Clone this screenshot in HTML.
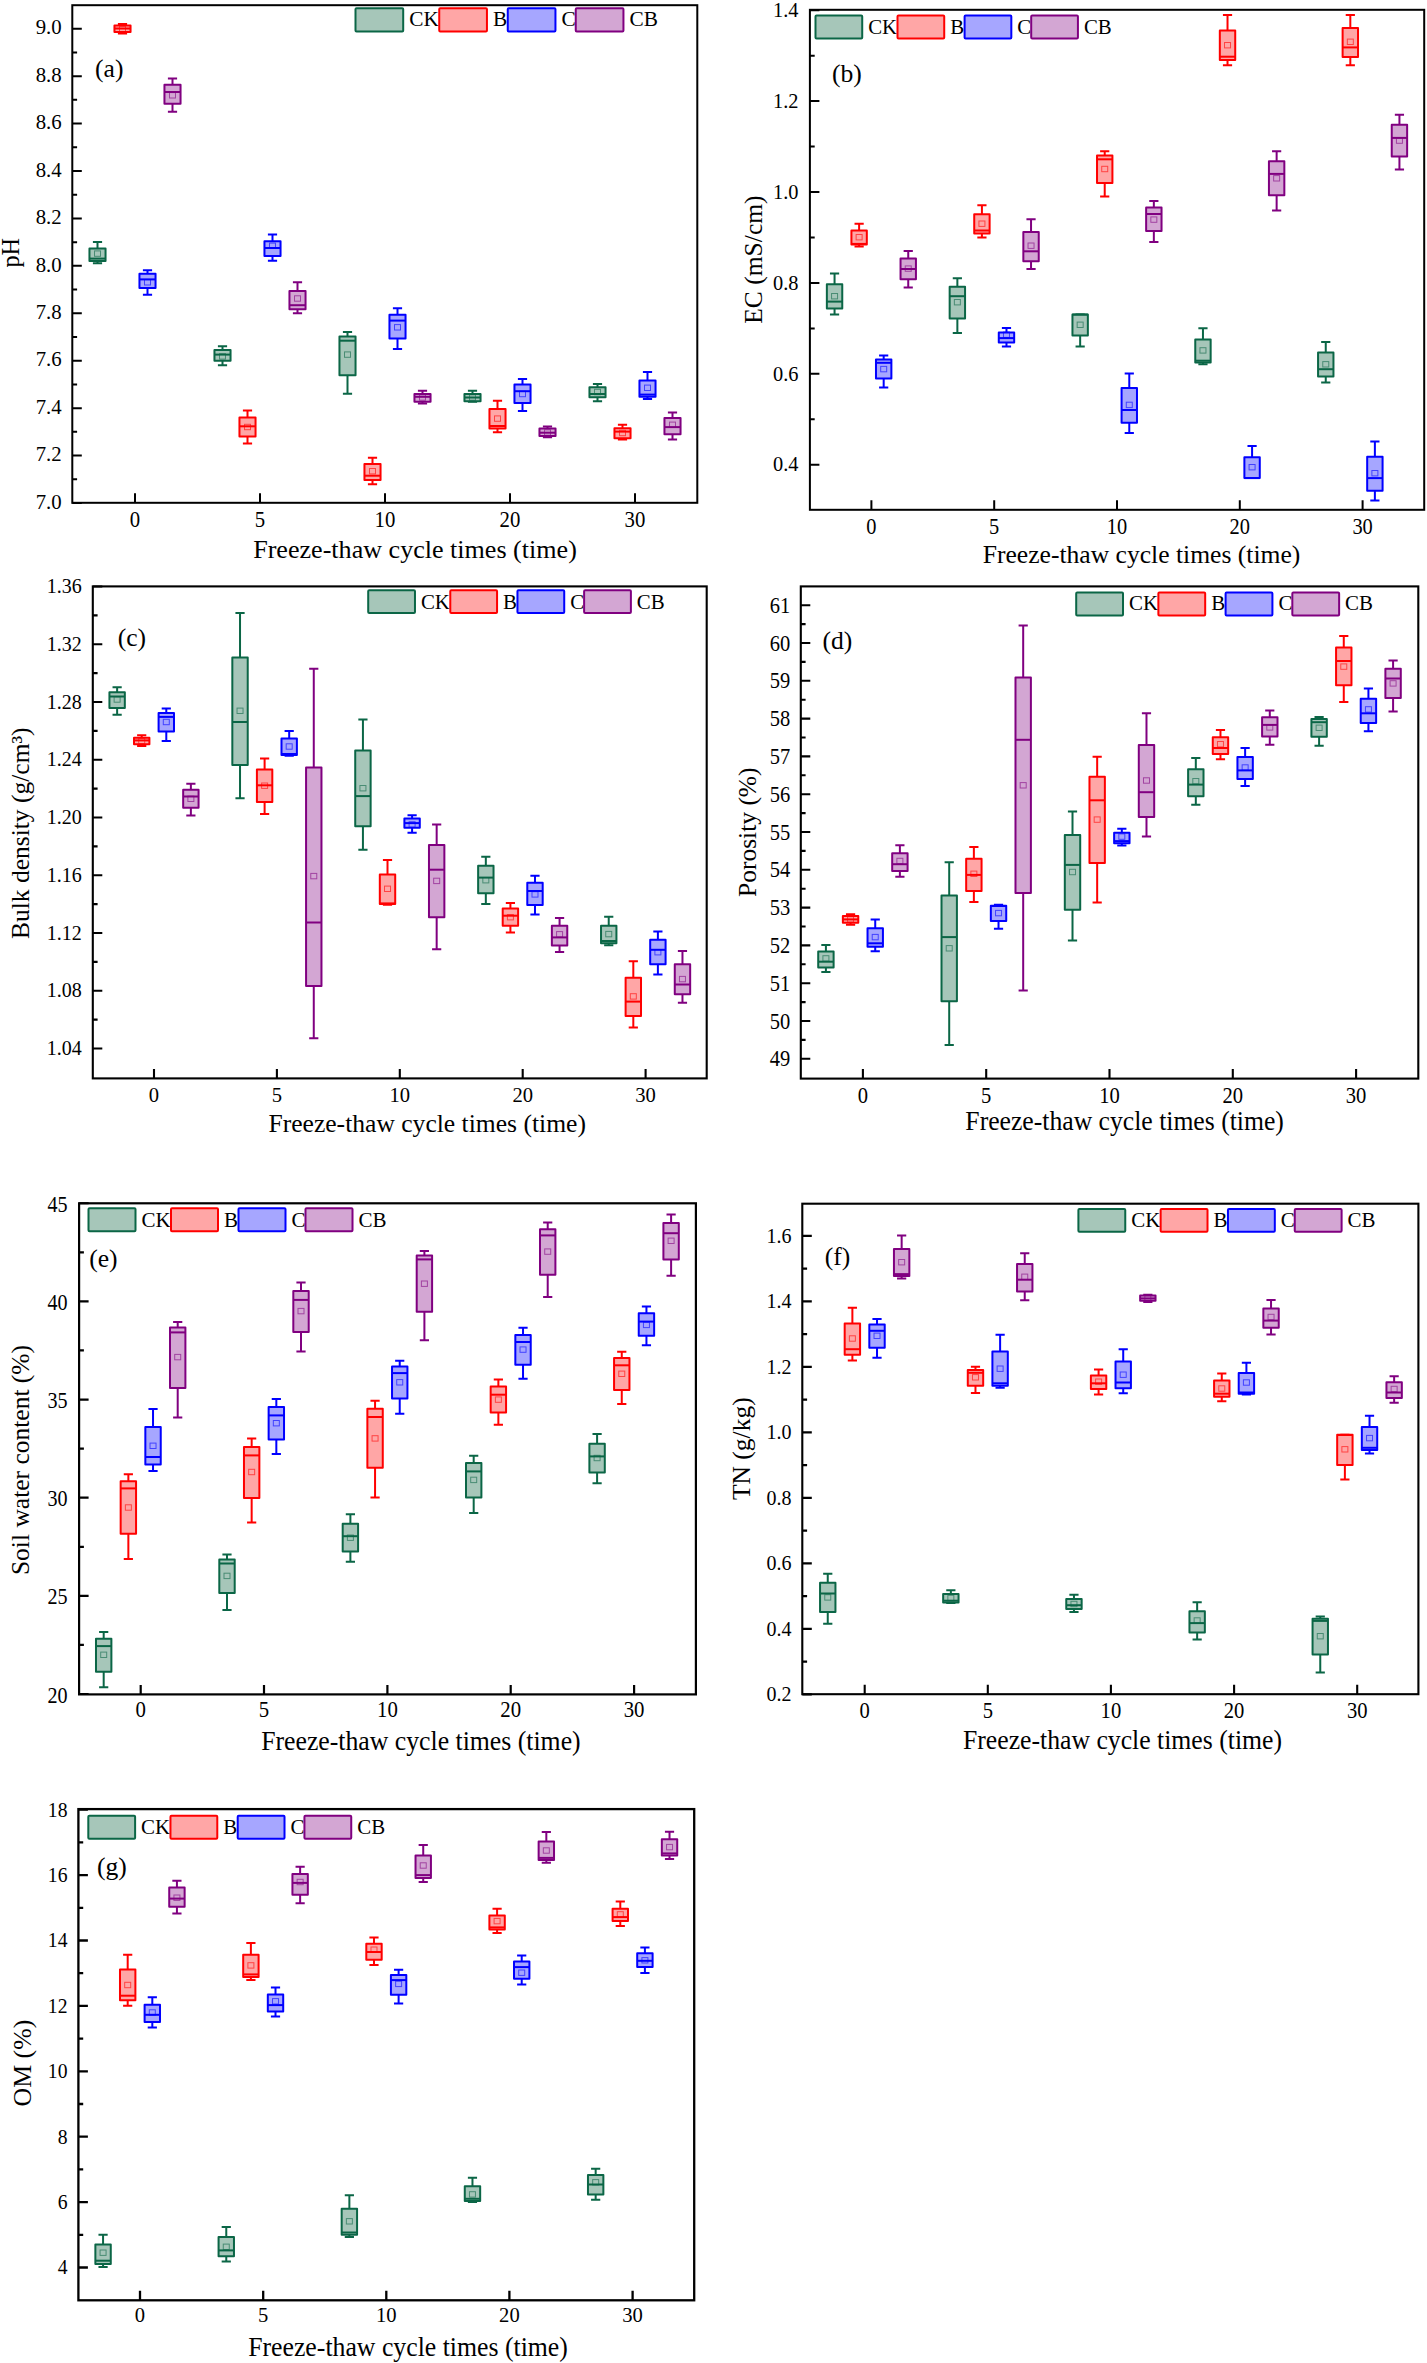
<!DOCTYPE html>
<html><head><meta charset="utf-8"><style>
html,body{margin:0;padding:0;background:#fff;overflow:hidden;}
svg{display:block;}
text{font-family:"Liberation Serif",serif;fill:#000;}
</style></head><body>
<svg width="1427" height="2363" viewBox="0 0 1427 2363">
<rect width="1427" height="2363" fill="#fff"/>
<path d="M97.5 248.5V242M92.9 242H102.1M97.5 261V263.3M92.9 263.3H102.1" stroke="#0b6646" stroke-width="2" fill="none"/><rect x="89.45" y="248.5" width="16.1" height="12.5" fill="#a6c6b9" stroke="#0b6646" stroke-width="2" stroke-linejoin="round"/><path d="M89.45 258.6H105.55" stroke="#0b6646" stroke-width="2"/><rect x="94.5" y="250.9" width="6" height="5.4" fill="none" stroke="#0b6646" stroke-width="1" opacity="0.6"/>
<path d="M122.5 25.5V24M117.9 24H127.1M122.5 32V33.5M117.9 33.5H127.1" stroke="#ff0000" stroke-width="2" fill="none"/><rect x="114.45" y="25.5" width="16.1" height="6.5" fill="#ffa6a6" stroke="#ff0000" stroke-width="2" stroke-linejoin="round"/><path d="M114.45 28.5H130.55" stroke="#ff0000" stroke-width="2"/><rect x="119.5" y="26.3" width="6" height="5.4" fill="none" stroke="#ff0000" stroke-width="1" opacity="0.6"/>
<path d="M147.5 273.8V270.2M142.9 270.2H152.1M147.5 288V294.7M142.9 294.7H152.1" stroke="#0000ff" stroke-width="2" fill="none"/><rect x="139.45" y="273.8" width="16.1" height="14.2" fill="#a6a6ff" stroke="#0000ff" stroke-width="2" stroke-linejoin="round"/><path d="M139.45 279.4H155.55" stroke="#0000ff" stroke-width="2"/><rect x="144.5" y="279.6" width="6" height="5.4" fill="none" stroke="#0000ff" stroke-width="1" opacity="0.6"/>
<path d="M172.5 84.8V78.5M167.9 78.5H177.1M172.5 103.8V111.7M167.9 111.7H177.1" stroke="#800080" stroke-width="2" fill="none"/><rect x="164.45" y="84.8" width="16.1" height="19" fill="#d3a6d3" stroke="#800080" stroke-width="2" stroke-linejoin="round"/><path d="M164.45 92H180.55" stroke="#800080" stroke-width="2"/><rect x="169.5" y="92.6" width="6" height="5.4" fill="none" stroke="#800080" stroke-width="1" opacity="0.6"/>
<path d="M222.5 350.1V346.3M217.9 346.3H227.1M222.5 360.8V365.3M217.9 365.3H227.1" stroke="#0b6646" stroke-width="2" fill="none"/><rect x="214.45" y="350.1" width="16.1" height="10.7" fill="#a6c6b9" stroke="#0b6646" stroke-width="2" stroke-linejoin="round"/><path d="M214.45 354.6H230.55" stroke="#0b6646" stroke-width="2"/><rect x="219.5" y="353.7" width="6" height="5.4" fill="none" stroke="#0b6646" stroke-width="1" opacity="0.6"/>
<path d="M247.5 417.4V410.6M242.9 410.6H252.1M247.5 436.4V443.6M242.9 443.6H252.1" stroke="#ff0000" stroke-width="2" fill="none"/><rect x="239.45" y="417.4" width="16.1" height="19" fill="#ffa6a6" stroke="#ff0000" stroke-width="2" stroke-linejoin="round"/><path d="M239.45 426.3H255.55" stroke="#ff0000" stroke-width="2"/><rect x="244.5" y="424.3" width="6" height="5.4" fill="none" stroke="#ff0000" stroke-width="1" opacity="0.6"/>
<path d="M272.5 241.3V234.6M267.9 234.6H277.1M272.5 255.9V260.8M267.9 260.8H277.1" stroke="#0000ff" stroke-width="2" fill="none"/><rect x="264.45" y="241.3" width="16.1" height="14.6" fill="#a6a6ff" stroke="#0000ff" stroke-width="2" stroke-linejoin="round"/><path d="M264.45 248H280.55" stroke="#0000ff" stroke-width="2"/><rect x="269.5" y="243.1" width="6" height="5.4" fill="none" stroke="#0000ff" stroke-width="1" opacity="0.6"/>
<path d="M297.5 290.9V282.3M292.9 282.3H302.1M297.5 309.3V313.3M292.9 313.3H302.1" stroke="#800080" stroke-width="2" fill="none"/><rect x="289.45" y="290.9" width="16.1" height="18.4" fill="#d3a6d3" stroke="#800080" stroke-width="2" stroke-linejoin="round"/><path d="M289.45 305.2H305.55" stroke="#800080" stroke-width="2"/><rect x="294.5" y="295.8" width="6" height="5.4" fill="none" stroke="#800080" stroke-width="1" opacity="0.6"/>
<path d="M347.5 336.6V332.1M342.9 332.1H352.1M347.5 375.2V393.8M342.9 393.8H352.1" stroke="#0b6646" stroke-width="2" fill="none"/><rect x="339.45" y="336.6" width="16.1" height="38.6" fill="#a6c6b9" stroke="#0b6646" stroke-width="2" stroke-linejoin="round"/><path d="M339.45 340.7H355.55" stroke="#0b6646" stroke-width="2"/><rect x="344.5" y="351.9" width="6" height="5.4" fill="none" stroke="#0b6646" stroke-width="1" opacity="0.6"/>
<path d="M372.5 464V457.7M367.9 457.7H377.1M372.5 480.1V484.2M367.9 484.2H377.1" stroke="#ff0000" stroke-width="2" fill="none"/><rect x="364.45" y="464" width="16.1" height="16.1" fill="#ffa6a6" stroke="#ff0000" stroke-width="2" stroke-linejoin="round"/><path d="M364.45 475.7H380.55" stroke="#ff0000" stroke-width="2"/><rect x="369.5" y="468.5" width="6" height="5.4" fill="none" stroke="#ff0000" stroke-width="1" opacity="0.6"/>
<path d="M397.5 314.7V308.2M392.9 308.2H402.1M397.5 338.5V349M392.9 349H402.1" stroke="#0000ff" stroke-width="2" fill="none"/><rect x="389.45" y="314.7" width="16.1" height="23.8" fill="#a6a6ff" stroke="#0000ff" stroke-width="2" stroke-linejoin="round"/><path d="M389.45 320.6H405.55" stroke="#0000ff" stroke-width="2"/><rect x="394.5" y="324.6" width="6" height="5.4" fill="none" stroke="#0000ff" stroke-width="1" opacity="0.6"/>
<path d="M422.5 393.9V390.7M417.9 390.7H427.1M422.5 401.7V403.5M417.9 403.5H427.1" stroke="#800080" stroke-width="2" fill="none"/><rect x="414.45" y="393.9" width="16.1" height="7.8" fill="#d3a6d3" stroke="#800080" stroke-width="2" stroke-linejoin="round"/><path d="M414.45 396.8H430.55" stroke="#800080" stroke-width="2"/><rect x="419.5" y="394.8" width="6" height="5.4" fill="none" stroke="#800080" stroke-width="1" opacity="0.6"/>
<path d="M472.5 393.9V390.7M467.9 390.7H477.1M472.5 401.3V401.7M467.9 401.7H477.1" stroke="#0b6646" stroke-width="2" fill="none"/><rect x="464.45" y="393.9" width="16.1" height="7.4" fill="#a6c6b9" stroke="#0b6646" stroke-width="2" stroke-linejoin="round"/><path d="M464.45 397.5H480.55" stroke="#0b6646" stroke-width="2"/><rect x="469.5" y="394.8" width="6" height="5.4" fill="none" stroke="#0b6646" stroke-width="1" opacity="0.6"/>
<path d="M497.5 409.1V400.8M492.9 400.8H502.1M497.5 428.6V432.2M492.9 432.2H502.1" stroke="#ff0000" stroke-width="2" fill="none"/><rect x="489.45" y="409.1" width="16.1" height="19.5" fill="#ffa6a6" stroke="#ff0000" stroke-width="2" stroke-linejoin="round"/><path d="M489.45 426H505.55" stroke="#ff0000" stroke-width="2"/><rect x="494.5" y="415.9" width="6" height="5.4" fill="none" stroke="#ff0000" stroke-width="1" opacity="0.6"/>
<path d="M522.5 384.5V378.9M517.9 378.9H527.1M522.5 402.9V410.9M517.9 410.9H527.1" stroke="#0000ff" stroke-width="2" fill="none"/><rect x="514.45" y="384.5" width="16.1" height="18.4" fill="#a6a6ff" stroke="#0000ff" stroke-width="2" stroke-linejoin="round"/><path d="M514.45 391.2H530.55" stroke="#0000ff" stroke-width="2"/><rect x="519.5" y="391.3" width="6" height="5.4" fill="none" stroke="#0000ff" stroke-width="1" opacity="0.6"/>
<path d="M547.5 428.6V426.6M542.9 426.6H552.1M547.5 436V437.2M542.9 437.2H552.1" stroke="#800080" stroke-width="2" fill="none"/><rect x="539.45" y="428.6" width="16.1" height="7.4" fill="#d3a6d3" stroke="#800080" stroke-width="2" stroke-linejoin="round"/><path d="M539.45 432.7H555.55" stroke="#800080" stroke-width="2"/><rect x="544.5" y="429.8" width="6" height="5.4" fill="none" stroke="#800080" stroke-width="1" opacity="0.6"/>
<path d="M597.5 387.2V384M592.9 384H602.1M597.5 397.2V401.3M592.9 401.3H602.1" stroke="#0b6646" stroke-width="2" fill="none"/><rect x="589.45" y="387.2" width="16.1" height="10" fill="#a6c6b9" stroke="#0b6646" stroke-width="2" stroke-linejoin="round"/><path d="M589.45 394H605.55" stroke="#0b6646" stroke-width="2"/><rect x="594.5" y="389.3" width="6" height="5.4" fill="none" stroke="#0b6646" stroke-width="1" opacity="0.6"/>
<path d="M622.5 428.2V424.8M617.9 424.8H627.1M622.5 438.3V439.4M617.9 439.4H627.1" stroke="#ff0000" stroke-width="2" fill="none"/><rect x="614.45" y="428.2" width="16.1" height="10.1" fill="#ffa6a6" stroke="#ff0000" stroke-width="2" stroke-linejoin="round"/><path d="M614.45 431.6H630.55" stroke="#ff0000" stroke-width="2"/><rect x="619.5" y="430.3" width="6" height="5.4" fill="none" stroke="#ff0000" stroke-width="1" opacity="0.6"/>
<path d="M647.5 380.4V372.1M642.9 372.1H652.1M647.5 396.8V399M642.9 399H652.1" stroke="#0000ff" stroke-width="2" fill="none"/><rect x="639.45" y="380.4" width="16.1" height="16.4" fill="#a6a6ff" stroke="#0000ff" stroke-width="2" stroke-linejoin="round"/><path d="M639.45 394.6H655.55" stroke="#0000ff" stroke-width="2"/><rect x="644.5" y="385.1" width="6" height="5.4" fill="none" stroke="#0000ff" stroke-width="1" opacity="0.6"/>
<path d="M672.5 418.1V412.5M667.9 412.5H677.1M672.5 434.3V439.4M667.9 439.4H677.1" stroke="#800080" stroke-width="2" fill="none"/><rect x="664.45" y="418.1" width="16.1" height="16.2" fill="#d3a6d3" stroke="#800080" stroke-width="2" stroke-linejoin="round"/><path d="M664.45 427.1H680.55" stroke="#800080" stroke-width="2"/><rect x="669.5" y="422.1" width="6" height="5.4" fill="none" stroke="#800080" stroke-width="1" opacity="0.6"/>
<rect x="72.3" y="5.2" width="625" height="497.6" fill="none" stroke="#000" stroke-width="2.0"/>
<path d="M72.3 503h9.5M72.3 455.57h9.5M72.3 408.14h9.5M72.3 360.71h9.5M72.3 313.28h9.5M72.3 265.85h9.5M72.3 218.42h9.5M72.3 170.99h9.5M72.3 123.56h9.5M72.3 76.13h9.5M72.3 28.7h9.5M72.3 479.29h4.8M72.3 431.86h4.8M72.3 384.43h4.8M72.3 337h4.8M72.3 289.57h4.8M72.3 242.14h4.8M72.3 194.7h4.8M72.3 147.27h4.8M72.3 99.85h4.8M72.3 52.41h4.8M135 502.8v-9.5M260 502.8v-9.5M385 502.8v-9.5M510 502.8v-9.5M635 502.8v-9.5" stroke="#000" stroke-width="2.0" fill="none"/>
<text transform="translate(61.7 508.74) scale(1 1.03)" font-size="20.8" text-anchor="end">7.0</text>
<text transform="translate(61.7 461.31) scale(1 1.03)" font-size="20.8" text-anchor="end">7.2</text>
<text transform="translate(61.7 413.88) scale(1 1.03)" font-size="20.8" text-anchor="end">7.4</text>
<text transform="translate(61.7 366.45) scale(1 1.03)" font-size="20.8" text-anchor="end">7.6</text>
<text transform="translate(61.7 319.02) scale(1 1.03)" font-size="20.8" text-anchor="end">7.8</text>
<text transform="translate(61.7 271.59) scale(1 1.03)" font-size="20.8" text-anchor="end">8.0</text>
<text transform="translate(61.7 224.16) scale(1 1.03)" font-size="20.8" text-anchor="end">8.2</text>
<text transform="translate(61.7 176.73) scale(1 1.03)" font-size="20.8" text-anchor="end">8.4</text>
<text transform="translate(61.7 129.3) scale(1 1.03)" font-size="20.8" text-anchor="end">8.6</text>
<text transform="translate(61.7 81.87) scale(1 1.03)" font-size="20.8" text-anchor="end">8.8</text>
<text transform="translate(61.7 34.44) scale(1 1.03)" font-size="20.8" text-anchor="end">9.0</text>
<text transform="translate(135 527) scale(1 1.12)" font-size="20.8" text-anchor="middle">0</text>
<text transform="translate(260 527) scale(1 1.12)" font-size="20.8" text-anchor="middle">5</text>
<text transform="translate(385 527) scale(1 1.12)" font-size="20.8" text-anchor="middle">10</text>
<text transform="translate(510 527) scale(1 1.12)" font-size="20.8" text-anchor="middle">20</text>
<text transform="translate(635 527) scale(1 1.12)" font-size="20.8" text-anchor="middle">30</text>
<text transform="translate(18.9 252.8) rotate(-90)" font-size="26.2" text-anchor="middle" textLength="29.6" lengthAdjust="spacingAndGlyphs">pH</text>
<text transform="translate(415 557.7) scale(1 1.0)" font-size="25.9" text-anchor="middle" textLength="323.7" lengthAdjust="spacingAndGlyphs">Freeze-thaw cycle times (time)</text>
<text x="95.1" y="77.1" font-size="25.6">(a)</text>
<rect x="355.5" y="8.15" width="47.7" height="23.34" rx="1" fill="#a6c6b9" stroke="#0b6646" stroke-width="2"/>
<text x="409.3" y="26.13" font-size="21.31">CK</text>
<rect x="439.24" y="8.15" width="47.7" height="23.34" rx="1" fill="#ffa6a6" stroke="#ff0000" stroke-width="2"/>
<text x="493.04" y="26.13" font-size="21.31">B</text>
<rect x="507.75" y="8.15" width="47.7" height="23.34" rx="1" fill="#a6a6ff" stroke="#0000ff" stroke-width="2"/>
<text x="561.55" y="26.13" font-size="21.31">C</text>
<rect x="575.75" y="8.15" width="47.7" height="23.34" rx="1" fill="#d3a6d3" stroke="#800080" stroke-width="2"/>
<text x="629.56" y="26.13" font-size="21.31">CB</text>
<path d="M834.56 284.3V273.5M829.96 273.5H839.16M834.56 308.5V314.6M829.96 314.6H839.16" stroke="#0b6646" stroke-width="2" fill="none"/><rect x="826.86" y="284.3" width="15.4" height="24.2" fill="#a6c6b9" stroke="#0b6646" stroke-width="2" stroke-linejoin="round"/><path d="M826.86 301.6H842.26" stroke="#0b6646" stroke-width="2"/><rect x="831.56" y="293.5" width="6" height="5.4" fill="none" stroke="#0b6646" stroke-width="1" opacity="0.6"/>
<path d="M859.12 230.5V223.7M854.52 223.7H863.72M859.12 244.6V246.6M854.52 246.6H863.72" stroke="#ff0000" stroke-width="2" fill="none"/><rect x="851.42" y="230.5" width="15.4" height="14.1" fill="#ffa6a6" stroke="#ff0000" stroke-width="2" stroke-linejoin="round"/><path d="M851.42 243.9H866.82" stroke="#ff0000" stroke-width="2"/><rect x="856.12" y="234.5" width="6" height="5.4" fill="none" stroke="#ff0000" stroke-width="1" opacity="0.6"/>
<path d="M883.68 359.4V355.6M879.08 355.6H888.28M883.68 378.5V387.4M879.08 387.4H888.28" stroke="#0000ff" stroke-width="2" fill="none"/><rect x="875.98" y="359.4" width="15.4" height="19.1" fill="#a6a6ff" stroke="#0000ff" stroke-width="2" stroke-linejoin="round"/><path d="M875.98 362.8H891.38" stroke="#0000ff" stroke-width="2"/><rect x="880.68" y="366.4" width="6" height="5.4" fill="none" stroke="#0000ff" stroke-width="1" opacity="0.6"/>
<path d="M908.24 258.5V250.9M903.64 250.9H912.84M908.24 279.3V287.6M903.64 287.6H912.84" stroke="#800080" stroke-width="2" fill="none"/><rect x="900.54" y="258.5" width="15.4" height="20.8" fill="#d3a6d3" stroke="#800080" stroke-width="2" stroke-linejoin="round"/><path d="M900.54 269H915.94" stroke="#800080" stroke-width="2"/><rect x="905.24" y="265.9" width="6" height="5.4" fill="none" stroke="#800080" stroke-width="1" opacity="0.6"/>
<path d="M957.36 286.8V278.2M952.76 278.2H961.96M957.36 318.6V333M952.76 333H961.96" stroke="#0b6646" stroke-width="2" fill="none"/><rect x="949.66" y="286.8" width="15.4" height="31.8" fill="#a6c6b9" stroke="#0b6646" stroke-width="2" stroke-linejoin="round"/><path d="M949.66 296.2H965.06" stroke="#0b6646" stroke-width="2"/><rect x="954.36" y="299.5" width="6" height="5.4" fill="none" stroke="#0b6646" stroke-width="1" opacity="0.6"/>
<path d="M981.92 214.3V205.3M977.32 205.3H986.52M981.92 233.4V237.6M977.32 237.6H986.52" stroke="#ff0000" stroke-width="2" fill="none"/><rect x="974.22" y="214.3" width="15.4" height="19.1" fill="#ffa6a6" stroke="#ff0000" stroke-width="2" stroke-linejoin="round"/><path d="M974.22 230.5H989.62" stroke="#ff0000" stroke-width="2"/><rect x="978.92" y="221" width="6" height="5.4" fill="none" stroke="#ff0000" stroke-width="1" opacity="0.6"/>
<path d="M1006.48 332.5V328M1001.88 328H1011.08M1006.48 342.6V346.4M1001.88 346.4H1011.08" stroke="#0000ff" stroke-width="2" fill="none"/><rect x="998.78" y="332.5" width="15.4" height="10.1" fill="#a6a6ff" stroke="#0000ff" stroke-width="2" stroke-linejoin="round"/><path d="M998.78 338.1H1014.18" stroke="#0000ff" stroke-width="2"/><rect x="1003.48" y="332" width="6" height="5.4" fill="none" stroke="#0000ff" stroke-width="1" opacity="0.6"/>
<path d="M1031.04 232V219.2M1026.44 219.2H1035.64M1031.04 261.2V269M1026.44 269H1035.64" stroke="#800080" stroke-width="2" fill="none"/><rect x="1023.34" y="232" width="15.4" height="29.2" fill="#d3a6d3" stroke="#800080" stroke-width="2" stroke-linejoin="round"/><path d="M1023.34 251.3H1038.74" stroke="#800080" stroke-width="2"/><rect x="1028.04" y="243" width="6" height="5.4" fill="none" stroke="#800080" stroke-width="1" opacity="0.6"/>
<path d="M1080.16 314.6V314.6M1075.56 314.6H1084.76M1080.16 335.5V346.4M1075.56 346.4H1084.76" stroke="#0b6646" stroke-width="2" fill="none"/><rect x="1072.46" y="314.6" width="15.4" height="20.9" fill="#a6c6b9" stroke="#0b6646" stroke-width="2" stroke-linejoin="round"/><path d="M1072.46 314.6H1087.86" stroke="#0b6646" stroke-width="2"/><rect x="1077.16" y="322.1" width="6" height="5.4" fill="none" stroke="#0b6646" stroke-width="1" opacity="0.6"/>
<path d="M1104.72 155.6V151.3M1100.12 151.3H1109.32M1104.72 182.9V196.5M1100.12 196.5H1109.32" stroke="#ff0000" stroke-width="2" fill="none"/><rect x="1097.02" y="155.6" width="15.4" height="27.3" fill="#ffa6a6" stroke="#ff0000" stroke-width="2" stroke-linejoin="round"/><path d="M1097.02 159.3H1112.42" stroke="#ff0000" stroke-width="2"/><rect x="1101.72" y="166.3" width="6" height="5.4" fill="none" stroke="#ff0000" stroke-width="1" opacity="0.6"/>
<path d="M1129.28 388.1V373.5M1124.68 373.5H1133.88M1129.28 422.7V432.9M1124.68 432.9H1133.88" stroke="#0000ff" stroke-width="2" fill="none"/><rect x="1121.58" y="388.1" width="15.4" height="34.6" fill="#a6a6ff" stroke="#0000ff" stroke-width="2" stroke-linejoin="round"/><path d="M1121.58 410H1136.98" stroke="#0000ff" stroke-width="2"/><rect x="1126.28" y="402.2" width="6" height="5.4" fill="none" stroke="#0000ff" stroke-width="1" opacity="0.6"/>
<path d="M1153.84 207.4V201.1M1149.24 201.1H1158.44M1153.84 231V242M1149.24 242H1158.44" stroke="#800080" stroke-width="2" fill="none"/><rect x="1146.14" y="207.4" width="15.4" height="23.6" fill="#d3a6d3" stroke="#800080" stroke-width="2" stroke-linejoin="round"/><path d="M1146.14 214H1161.54" stroke="#800080" stroke-width="2"/><rect x="1150.84" y="216.9" width="6" height="5.4" fill="none" stroke="#800080" stroke-width="1" opacity="0.6"/>
<path d="M1202.96 339.5V328.3M1198.36 328.3H1207.56M1202.96 362.6V364.3M1198.36 364.3H1207.56" stroke="#0b6646" stroke-width="2" fill="none"/><rect x="1195.26" y="339.5" width="15.4" height="23.1" fill="#a6c6b9" stroke="#0b6646" stroke-width="2" stroke-linejoin="round"/><path d="M1195.26 360.7H1210.66" stroke="#0b6646" stroke-width="2"/><rect x="1199.96" y="347.7" width="6" height="5.4" fill="none" stroke="#0b6646" stroke-width="1" opacity="0.6"/>
<path d="M1227.52 30.4V15.1M1222.92 15.1H1232.12M1227.52 60.1V65.2M1222.92 65.2H1232.12" stroke="#ff0000" stroke-width="2" fill="none"/><rect x="1219.82" y="30.4" width="15.4" height="29.7" fill="#ffa6a6" stroke="#ff0000" stroke-width="2" stroke-linejoin="round"/><path d="M1219.82 56.7H1235.22" stroke="#ff0000" stroke-width="2"/><rect x="1224.52" y="42.5" width="6" height="5.4" fill="none" stroke="#ff0000" stroke-width="1" opacity="0.6"/>
<path d="M1252.08 457.2V446M1247.48 446H1256.68M1252.08 478.1V478.1M1247.48 478.1H1256.68" stroke="#0000ff" stroke-width="2" fill="none"/><rect x="1244.38" y="457.2" width="15.4" height="20.9" fill="#a6a6ff" stroke="#0000ff" stroke-width="2" stroke-linejoin="round"/><path d="M1244.38 478.1H1259.78" stroke="#0000ff" stroke-width="2"/><rect x="1249.08" y="464.5" width="6" height="5.4" fill="none" stroke="#0000ff" stroke-width="1" opacity="0.6"/>
<path d="M1276.64 161.2V151.3M1272.04 151.3H1281.24M1276.64 195.3V210.4M1272.04 210.4H1281.24" stroke="#800080" stroke-width="2" fill="none"/><rect x="1268.94" y="161.2" width="15.4" height="34.1" fill="#d3a6d3" stroke="#800080" stroke-width="2" stroke-linejoin="round"/><path d="M1268.94 173.9H1284.34" stroke="#800080" stroke-width="2"/><rect x="1273.64" y="175.6" width="6" height="5.4" fill="none" stroke="#800080" stroke-width="1" opacity="0.6"/>
<path d="M1325.76 352.6V341.9M1321.16 341.9H1330.36M1325.76 376.5V382.5M1321.16 382.5H1330.36" stroke="#0b6646" stroke-width="2" fill="none"/><rect x="1318.06" y="352.6" width="15.4" height="23.9" fill="#a6c6b9" stroke="#0b6646" stroke-width="2" stroke-linejoin="round"/><path d="M1318.06 369.2H1333.46" stroke="#0b6646" stroke-width="2"/><rect x="1322.76" y="361.6" width="6" height="5.4" fill="none" stroke="#0b6646" stroke-width="1" opacity="0.6"/>
<path d="M1350.32 28V15.1M1345.72 15.1H1354.92M1350.32 57.1V65.2M1345.72 65.2H1354.92" stroke="#ff0000" stroke-width="2" fill="none"/><rect x="1342.62" y="28" width="15.4" height="29.1" fill="#ffa6a6" stroke="#ff0000" stroke-width="2" stroke-linejoin="round"/><path d="M1342.62 47.4H1358.02" stroke="#ff0000" stroke-width="2"/><rect x="1347.32" y="39.1" width="6" height="5.4" fill="none" stroke="#ff0000" stroke-width="1" opacity="0.6"/>
<path d="M1374.88 456.7V441.6M1370.28 441.6H1379.48M1374.88 490.8V500.5M1370.28 500.5H1379.48" stroke="#0000ff" stroke-width="2" fill="none"/><rect x="1367.18" y="456.7" width="15.4" height="34.1" fill="#a6a6ff" stroke="#0000ff" stroke-width="2" stroke-linejoin="round"/><path d="M1367.18 478.1H1382.58" stroke="#0000ff" stroke-width="2"/><rect x="1371.88" y="470.5" width="6" height="5.4" fill="none" stroke="#0000ff" stroke-width="1" opacity="0.6"/>
<path d="M1399.44 124.8V114.8M1394.84 114.8H1404.04M1399.44 156.4V169.5M1394.84 169.5H1404.04" stroke="#800080" stroke-width="2" fill="none"/><rect x="1391.74" y="124.8" width="15.4" height="31.6" fill="#d3a6d3" stroke="#800080" stroke-width="2" stroke-linejoin="round"/><path d="M1391.74 137.9H1407.14" stroke="#800080" stroke-width="2"/><rect x="1396.44" y="137.9" width="6" height="5.4" fill="none" stroke="#800080" stroke-width="1" opacity="0.6"/>
<rect x="809.9" y="9.8" width="614.3" height="500" fill="none" stroke="#000" stroke-width="2.0"/>
<path d="M809.9 464.78h9.5M809.9 373.86h9.5M809.9 282.94h9.5M809.9 192.02h9.5M809.9 101.1h9.5M809.9 10.18h9.5M809.9 419.32h4.8M809.9 328.4h4.8M809.9 237.48h4.8M809.9 146.56h4.8M809.9 55.64h4.8M871.4 509.8v-9.5M994.2 509.8v-9.5M1117 509.8v-9.5M1239.8 509.8v-9.5M1362.6 509.8v-9.5" stroke="#000" stroke-width="2.0" fill="none"/>
<text transform="translate(798.5 471.46) scale(1 1.07)" font-size="20.4" text-anchor="end">0.4</text>
<text transform="translate(798.5 380.54) scale(1 1.07)" font-size="20.4" text-anchor="end">0.6</text>
<text transform="translate(798.5 289.62) scale(1 1.07)" font-size="20.4" text-anchor="end">0.8</text>
<text transform="translate(798.5 198.7) scale(1 1.07)" font-size="20.4" text-anchor="end">1.0</text>
<text transform="translate(798.5 107.78) scale(1 1.07)" font-size="20.4" text-anchor="end">1.2</text>
<text transform="translate(798.5 16.86) scale(1 1.07)" font-size="20.4" text-anchor="end">1.4</text>
<text transform="translate(871.4 534.3) scale(1 1.08)" font-size="20.4" text-anchor="middle">0</text>
<text transform="translate(994.2 534.3) scale(1 1.08)" font-size="20.4" text-anchor="middle">5</text>
<text transform="translate(1117 534.3) scale(1 1.08)" font-size="20.4" text-anchor="middle">10</text>
<text transform="translate(1239.8 534.3) scale(1 1.08)" font-size="20.4" text-anchor="middle">20</text>
<text transform="translate(1362.6 534.3) scale(1 1.08)" font-size="20.4" text-anchor="middle">30</text>
<text transform="translate(762.4 259.6) rotate(-90)" font-size="25.7" text-anchor="middle" textLength="128.3" lengthAdjust="spacingAndGlyphs">EC (mS/cm)</text>
<text transform="translate(1141.5 562.5) scale(1 1.0)" font-size="25.9" text-anchor="middle" textLength="317.6" lengthAdjust="spacingAndGlyphs">Freeze-thaw cycle times (time)</text>
<text x="832" y="82.1" font-size="25.6">(b)</text>
<rect x="815.5" y="15.6" width="46.72" height="22.86" rx="1" fill="#a6c6b9" stroke="#0b6646" stroke-width="2"/>
<text x="868.18" y="33.98" font-size="20.87">CK</text>
<rect x="897.5" y="15.6" width="46.72" height="22.86" rx="1" fill="#ffa6a6" stroke="#ff0000" stroke-width="2"/>
<text x="950.18" y="33.98" font-size="20.87">B</text>
<rect x="964.6" y="15.6" width="46.72" height="22.86" rx="1" fill="#a6a6ff" stroke="#0000ff" stroke-width="2"/>
<text x="1017.28" y="33.98" font-size="20.87">C</text>
<rect x="1031.2" y="15.6" width="46.72" height="22.86" rx="1" fill="#d3a6d3" stroke="#800080" stroke-width="2"/>
<text x="1083.88" y="33.98" font-size="20.87">CB</text>
<path d="M117.13 692.2V687.3M112.53 687.3H121.73M117.13 707.9V714.7M112.53 714.7H121.73" stroke="#0b6646" stroke-width="2" fill="none"/><rect x="109.43" y="692.2" width="15.4" height="15.7" fill="#a6c6b9" stroke="#0b6646" stroke-width="2" stroke-linejoin="round"/><path d="M109.43 696.5H124.83" stroke="#0b6646" stroke-width="2"/><rect x="114.13" y="696.8" width="6" height="5.4" fill="none" stroke="#0b6646" stroke-width="1" opacity="0.6"/>
<path d="M141.71 737.7V735.3M137.11 735.3H146.31M141.71 744.3V746M137.11 746H146.31" stroke="#ff0000" stroke-width="2" fill="none"/><rect x="134.01" y="737.7" width="15.4" height="6.6" fill="#ffa6a6" stroke="#ff0000" stroke-width="2" stroke-linejoin="round"/><path d="M134.01 740.4H149.41" stroke="#ff0000" stroke-width="2"/><rect x="138.71" y="738.3" width="6" height="5.4" fill="none" stroke="#ff0000" stroke-width="1" opacity="0.6"/>
<path d="M166.29 713.1V708.6M161.69 708.6H170.89M166.29 731.5V740.9M161.69 740.9H170.89" stroke="#0000ff" stroke-width="2" fill="none"/><rect x="158.59" y="713.1" width="15.4" height="18.4" fill="#a6a6ff" stroke="#0000ff" stroke-width="2" stroke-linejoin="round"/><path d="M158.59 716.9H173.99" stroke="#0000ff" stroke-width="2"/><rect x="163.29" y="719.3" width="6" height="5.4" fill="none" stroke="#0000ff" stroke-width="1" opacity="0.6"/>
<path d="M190.87 789.8V783.7M186.27 783.7H195.47M190.87 807.7V815.6M186.27 815.6H195.47" stroke="#800080" stroke-width="2" fill="none"/><rect x="183.17" y="789.8" width="15.4" height="17.9" fill="#d3a6d3" stroke="#800080" stroke-width="2" stroke-linejoin="round"/><path d="M183.17 796.5H198.57" stroke="#800080" stroke-width="2"/><rect x="187.87" y="796.1" width="6" height="5.4" fill="none" stroke="#800080" stroke-width="1" opacity="0.6"/>
<path d="M240.03 657.5V613.1M235.43 613.1H244.63M240.03 765.1V798.3M235.43 798.3H244.63" stroke="#0b6646" stroke-width="2" fill="none"/><rect x="232.33" y="657.5" width="15.4" height="107.6" fill="#a6c6b9" stroke="#0b6646" stroke-width="2" stroke-linejoin="round"/><path d="M232.33 722H247.73" stroke="#0b6646" stroke-width="2"/><rect x="237.03" y="708.1" width="6" height="5.4" fill="none" stroke="#0b6646" stroke-width="1" opacity="0.6"/>
<path d="M264.61 769.6V758.4M260.01 758.4H269.21M264.61 802.1V814M260.01 814H269.21" stroke="#ff0000" stroke-width="2" fill="none"/><rect x="256.91" y="769.6" width="15.4" height="32.5" fill="#ffa6a6" stroke="#ff0000" stroke-width="2" stroke-linejoin="round"/><path d="M256.91 785.3H272.31" stroke="#ff0000" stroke-width="2"/><rect x="261.61" y="783" width="6" height="5.4" fill="none" stroke="#ff0000" stroke-width="1" opacity="0.6"/>
<path d="M289.19 738.6V731M284.59 731H293.79M289.19 755V755.7M284.59 755.7H293.79" stroke="#0000ff" stroke-width="2" fill="none"/><rect x="281.49" y="738.6" width="15.4" height="16.4" fill="#a6a6ff" stroke="#0000ff" stroke-width="2" stroke-linejoin="round"/><path d="M281.49 754H296.89" stroke="#0000ff" stroke-width="2"/><rect x="286.19" y="743.8" width="6" height="5.4" fill="none" stroke="#0000ff" stroke-width="1" opacity="0.6"/>
<path d="M313.77 767.4V668.7M309.17 668.7H318.37M313.77 986V1038.2M309.17 1038.2H318.37" stroke="#800080" stroke-width="2" fill="none"/><rect x="306.07" y="767.4" width="15.4" height="218.6" fill="#d3a6d3" stroke="#800080" stroke-width="2" stroke-linejoin="round"/><path d="M306.07 922.5H321.47" stroke="#800080" stroke-width="2"/><rect x="310.77" y="873.4" width="6" height="5.4" fill="none" stroke="#800080" stroke-width="1" opacity="0.6"/>
<path d="M362.93 750.5V719.6M358.33 719.6H367.53M362.93 826.3V849.8M358.33 849.8H367.53" stroke="#0b6646" stroke-width="2" fill="none"/><rect x="355.23" y="750.5" width="15.4" height="75.8" fill="#a6c6b9" stroke="#0b6646" stroke-width="2" stroke-linejoin="round"/><path d="M355.23 796.1H370.63" stroke="#0b6646" stroke-width="2"/><rect x="359.93" y="785.5" width="6" height="5.4" fill="none" stroke="#0b6646" stroke-width="1" opacity="0.6"/>
<path d="M387.51 874.5V860M382.91 860H392.11M387.51 904.1V904.8M382.91 904.8H392.11" stroke="#ff0000" stroke-width="2" fill="none"/><rect x="379.81" y="874.5" width="15.4" height="29.6" fill="#ffa6a6" stroke="#ff0000" stroke-width="2" stroke-linejoin="round"/><path d="M379.81 903.4H395.21" stroke="#ff0000" stroke-width="2"/><rect x="384.51" y="886.1" width="6" height="5.4" fill="none" stroke="#ff0000" stroke-width="1" opacity="0.6"/>
<path d="M412.09 818.6V815.2M407.49 815.2H416.69M412.09 827.8V832.7M407.49 832.7H416.69" stroke="#0000ff" stroke-width="2" fill="none"/><rect x="404.39" y="818.6" width="15.4" height="9.2" fill="#a6a6ff" stroke="#0000ff" stroke-width="2" stroke-linejoin="round"/><path d="M404.39 823.1H419.79" stroke="#0000ff" stroke-width="2"/><rect x="409.09" y="821.7" width="6" height="5.4" fill="none" stroke="#0000ff" stroke-width="1" opacity="0.6"/>
<path d="M436.67 845V824.4M432.07 824.4H441.27M436.67 917.2V949.3M432.07 949.3H441.27" stroke="#800080" stroke-width="2" fill="none"/><rect x="428.97" y="845" width="15.4" height="72.2" fill="#d3a6d3" stroke="#800080" stroke-width="2" stroke-linejoin="round"/><path d="M428.97 869.7H444.37" stroke="#800080" stroke-width="2"/><rect x="433.67" y="878.2" width="6" height="5.4" fill="none" stroke="#800080" stroke-width="1" opacity="0.6"/>
<path d="M485.83 865.7V856.7M481.23 856.7H490.43M485.83 893.3V904M481.23 904H490.43" stroke="#0b6646" stroke-width="2" fill="none"/><rect x="478.13" y="865.7" width="15.4" height="27.6" fill="#a6c6b9" stroke="#0b6646" stroke-width="2" stroke-linejoin="round"/><path d="M478.13 877.6H493.53" stroke="#0b6646" stroke-width="2"/><rect x="482.83" y="877.5" width="6" height="5.4" fill="none" stroke="#0b6646" stroke-width="1" opacity="0.6"/>
<path d="M510.41 908.5V902.9M505.81 902.9H515.01M510.41 925.8V932.5M505.81 932.5H515.01" stroke="#ff0000" stroke-width="2" fill="none"/><rect x="502.71" y="908.5" width="15.4" height="17.3" fill="#ffa6a6" stroke="#ff0000" stroke-width="2" stroke-linejoin="round"/><path d="M502.71 915.7H518.11" stroke="#ff0000" stroke-width="2"/><rect x="507.41" y="914.5" width="6" height="5.4" fill="none" stroke="#ff0000" stroke-width="1" opacity="0.6"/>
<path d="M534.99 882.7V875.8M530.39 875.8H539.59M534.99 904.9V914.6M530.39 914.6H539.59" stroke="#0000ff" stroke-width="2" fill="none"/><rect x="527.29" y="882.7" width="15.4" height="22.2" fill="#a6a6ff" stroke="#0000ff" stroke-width="2" stroke-linejoin="round"/><path d="M527.29 891H542.69" stroke="#0000ff" stroke-width="2"/><rect x="531.99" y="891.7" width="6" height="5.4" fill="none" stroke="#0000ff" stroke-width="1" opacity="0.6"/>
<path d="M559.57 925.8V917.9M554.97 917.9H564.17M559.57 945.5V952M554.97 952H564.17" stroke="#800080" stroke-width="2" fill="none"/><rect x="551.87" y="925.8" width="15.4" height="19.7" fill="#d3a6d3" stroke="#800080" stroke-width="2" stroke-linejoin="round"/><path d="M551.87 937.4H567.27" stroke="#800080" stroke-width="2"/><rect x="556.57" y="931.6" width="6" height="5.4" fill="none" stroke="#800080" stroke-width="1" opacity="0.6"/>
<path d="M608.73 925.8V916.8M604.13 916.8H613.33M608.73 943.3V945.3M604.13 945.3H613.33" stroke="#0b6646" stroke-width="2" fill="none"/><rect x="601.03" y="925.8" width="15.4" height="17.5" fill="#a6c6b9" stroke="#0b6646" stroke-width="2" stroke-linejoin="round"/><path d="M601.03 941H616.43" stroke="#0b6646" stroke-width="2"/><rect x="605.73" y="931.4" width="6" height="5.4" fill="none" stroke="#0b6646" stroke-width="1" opacity="0.6"/>
<path d="M633.31 977.8V961.2M628.71 961.2H637.91M633.31 1015.9V1027.4M628.71 1027.4H637.91" stroke="#ff0000" stroke-width="2" fill="none"/><rect x="625.61" y="977.8" width="15.4" height="38.1" fill="#ffa6a6" stroke="#ff0000" stroke-width="2" stroke-linejoin="round"/><path d="M625.61 1001.6H641.01" stroke="#ff0000" stroke-width="2"/><rect x="630.31" y="993.7" width="6" height="5.4" fill="none" stroke="#ff0000" stroke-width="1" opacity="0.6"/>
<path d="M657.89 939.7V931.4M653.29 931.4H662.49M657.89 964.3V974.4M653.29 974.4H662.49" stroke="#0000ff" stroke-width="2" fill="none"/><rect x="650.19" y="939.7" width="15.4" height="24.6" fill="#a6a6ff" stroke="#0000ff" stroke-width="2" stroke-linejoin="round"/><path d="M650.19 949.8H665.59" stroke="#0000ff" stroke-width="2"/><rect x="654.89" y="949.5" width="6" height="5.4" fill="none" stroke="#0000ff" stroke-width="1" opacity="0.6"/>
<path d="M682.47 964.3V951.1M677.87 951.1H687.07M682.47 994.2V1002.7M677.87 1002.7H687.07" stroke="#800080" stroke-width="2" fill="none"/><rect x="674.77" y="964.3" width="15.4" height="29.9" fill="#d3a6d3" stroke="#800080" stroke-width="2" stroke-linejoin="round"/><path d="M674.77 984.5H690.17" stroke="#800080" stroke-width="2"/><rect x="679.47" y="976.4" width="6" height="5.4" fill="none" stroke="#800080" stroke-width="1" opacity="0.6"/>
<rect x="92.8" y="586.4" width="613.9" height="492" fill="none" stroke="#000" stroke-width="2.1"/>
<path d="M92.8 1048.5h9.5M92.8 990.75h9.5M92.8 933h9.5M92.8 875.25h9.5M92.8 817.5h9.5M92.8 759.75h9.5M92.8 702h9.5M92.8 644.25h9.5M92.8 586.5h9.5M92.8 1019.62h4.8M92.8 961.88h4.8M92.8 904.12h4.8M92.8 846.37h4.8M92.8 788.63h4.8M92.8 730.88h4.8M92.8 673.13h4.8M92.8 615.38h4.8M154 1078.4v-9.5M276.9 1078.4v-9.5M399.8 1078.4v-9.5M522.7 1078.4v-9.5M645.6 1078.4v-9.5" stroke="#000" stroke-width="2.1" fill="none"/>
<text transform="translate(81.75 1055.23) scale(1 1.07)" font-size="20.0" text-anchor="end">1.04</text>
<text transform="translate(81.75 997.48) scale(1 1.07)" font-size="20.0" text-anchor="end">1.08</text>
<text transform="translate(81.75 939.73) scale(1 1.07)" font-size="20.0" text-anchor="end">1.12</text>
<text transform="translate(81.75 881.98) scale(1 1.07)" font-size="20.0" text-anchor="end">1.16</text>
<text transform="translate(81.75 824.23) scale(1 1.07)" font-size="20.0" text-anchor="end">1.20</text>
<text transform="translate(81.75 766.48) scale(1 1.07)" font-size="20.0" text-anchor="end">1.24</text>
<text transform="translate(81.75 708.73) scale(1 1.07)" font-size="20.0" text-anchor="end">1.28</text>
<text transform="translate(81.75 650.98) scale(1 1.07)" font-size="20.0" text-anchor="end">1.32</text>
<text transform="translate(81.75 593.23) scale(1 1.07)" font-size="20.0" text-anchor="end">1.36</text>
<text transform="translate(154 1101.9) scale(1 1.05)" font-size="20.6" text-anchor="middle">0</text>
<text transform="translate(276.9 1101.9) scale(1 1.05)" font-size="20.6" text-anchor="middle">5</text>
<text transform="translate(399.8 1101.9) scale(1 1.05)" font-size="20.6" text-anchor="middle">10</text>
<text transform="translate(522.7 1101.9) scale(1 1.05)" font-size="20.6" text-anchor="middle">20</text>
<text transform="translate(645.6 1101.9) scale(1 1.05)" font-size="20.6" text-anchor="middle">30</text>
<text transform="translate(28.5 833.2) rotate(-90)" font-size="25.5" text-anchor="middle">Bulk density (g/cm³)</text>
<text transform="translate(427.2 1131.8) scale(1 1.0)" font-size="25.9" text-anchor="middle" textLength="317.5" lengthAdjust="spacingAndGlyphs">Freeze-thaw cycle times (time)</text>
<text x="117.7" y="646" font-size="25.6">(c)</text>
<rect x="368.2" y="590.2" width="46.77" height="22.89" rx="1" fill="#a6c6b9" stroke="#0b6646" stroke-width="2"/>
<text x="420.93" y="608.6" font-size="20.89">CK</text>
<rect x="450.29" y="590.2" width="46.77" height="22.89" rx="1" fill="#ffa6a6" stroke="#ff0000" stroke-width="2"/>
<text x="503.02" y="608.6" font-size="20.89">B</text>
<rect x="517.45" y="590.2" width="46.77" height="22.89" rx="1" fill="#a6a6ff" stroke="#0000ff" stroke-width="2"/>
<text x="570.18" y="608.6" font-size="20.89">C</text>
<rect x="584.12" y="590.2" width="46.77" height="22.89" rx="1" fill="#d3a6d3" stroke="#800080" stroke-width="2"/>
<text x="636.85" y="608.6" font-size="20.89">CB</text>
<path d="M825.91 951.6V944.9M821.31 944.9H830.51M825.91 967.6V972M821.31 972H830.51" stroke="#0b6646" stroke-width="2" fill="none"/><rect x="818.21" y="951.6" width="15.4" height="16" fill="#a6c6b9" stroke="#0b6646" stroke-width="2" stroke-linejoin="round"/><path d="M818.21 961.7H833.61" stroke="#0b6646" stroke-width="2"/><rect x="822.91" y="955.7" width="6" height="5.4" fill="none" stroke="#0b6646" stroke-width="1" opacity="0.6"/>
<path d="M850.57 916V914.2M845.97 914.2H855.17M850.57 922.7V924.7M845.97 924.7H855.17" stroke="#ff0000" stroke-width="2" fill="none"/><rect x="842.87" y="916" width="15.4" height="6.7" fill="#ffa6a6" stroke="#ff0000" stroke-width="2" stroke-linejoin="round"/><path d="M842.87 919.4H858.27" stroke="#ff0000" stroke-width="2"/><rect x="847.57" y="916.7" width="6" height="5.4" fill="none" stroke="#ff0000" stroke-width="1" opacity="0.6"/>
<path d="M875.23 928.3V919.4M870.63 919.4H879.83M875.23 946.7V951.2M870.63 951.2H879.83" stroke="#0000ff" stroke-width="2" fill="none"/><rect x="867.53" y="928.3" width="15.4" height="18.4" fill="#a6a6ff" stroke="#0000ff" stroke-width="2" stroke-linejoin="round"/><path d="M867.53 943.3H882.93" stroke="#0000ff" stroke-width="2"/><rect x="872.23" y="934.4" width="6" height="5.4" fill="none" stroke="#0000ff" stroke-width="1" opacity="0.6"/>
<path d="M899.89 853.2V845.3M895.29 845.3H904.49M899.89 871.1V876.7M895.29 876.7H904.49" stroke="#800080" stroke-width="2" fill="none"/><rect x="892.19" y="853.2" width="15.4" height="17.9" fill="#d3a6d3" stroke="#800080" stroke-width="2" stroke-linejoin="round"/><path d="M892.19 864.2H907.59" stroke="#800080" stroke-width="2"/><rect x="896.89" y="858.3" width="6" height="5.4" fill="none" stroke="#800080" stroke-width="1" opacity="0.6"/>
<path d="M949.21 895.6V862.2M944.61 862.2H953.81M949.21 1001.2V1044.9M944.61 1044.9H953.81" stroke="#0b6646" stroke-width="2" fill="none"/><rect x="941.51" y="895.6" width="15.4" height="105.6" fill="#a6c6b9" stroke="#0b6646" stroke-width="2" stroke-linejoin="round"/><path d="M941.51 937.1H956.91" stroke="#0b6646" stroke-width="2"/><rect x="946.21" y="945.6" width="6" height="5.4" fill="none" stroke="#0b6646" stroke-width="1" opacity="0.6"/>
<path d="M973.87 858.8V846.9M969.27 846.9H978.47M973.87 891.1V901.9M969.27 901.9H978.47" stroke="#ff0000" stroke-width="2" fill="none"/><rect x="966.17" y="858.8" width="15.4" height="32.3" fill="#ffa6a6" stroke="#ff0000" stroke-width="2" stroke-linejoin="round"/><path d="M966.17 874.9H981.57" stroke="#ff0000" stroke-width="2"/><rect x="970.87" y="871.1" width="6" height="5.4" fill="none" stroke="#ff0000" stroke-width="1" opacity="0.6"/>
<path d="M998.53 905.7V904.8M993.93 904.8H1003.13M998.53 920.9V928.8M993.93 928.8H1003.13" stroke="#0000ff" stroke-width="2" fill="none"/><rect x="990.83" y="905.7" width="15.4" height="15.2" fill="#a6a6ff" stroke="#0000ff" stroke-width="2" stroke-linejoin="round"/><path d="M990.83 906H1006.23" stroke="#0000ff" stroke-width="2"/><rect x="995.53" y="910.4" width="6" height="5.4" fill="none" stroke="#0000ff" stroke-width="1" opacity="0.6"/>
<path d="M1023.19 677.6V625.4M1018.59 625.4H1027.79M1023.19 892.9V990.4M1018.59 990.4H1027.79" stroke="#800080" stroke-width="2" fill="none"/><rect x="1015.49" y="677.6" width="15.4" height="215.3" fill="#d3a6d3" stroke="#800080" stroke-width="2" stroke-linejoin="round"/><path d="M1015.49 739.8H1030.89" stroke="#800080" stroke-width="2"/><rect x="1020.19" y="782.6" width="6" height="5.4" fill="none" stroke="#800080" stroke-width="1" opacity="0.6"/>
<path d="M1072.51 835V811.5M1067.91 811.5H1077.11M1072.51 909.7V940.4M1067.91 940.4H1077.11" stroke="#0b6646" stroke-width="2" fill="none"/><rect x="1064.81" y="835" width="15.4" height="74.7" fill="#a6c6b9" stroke="#0b6646" stroke-width="2" stroke-linejoin="round"/><path d="M1064.81 864.9H1080.21" stroke="#0b6646" stroke-width="2"/><rect x="1069.51" y="869.3" width="6" height="5.4" fill="none" stroke="#0b6646" stroke-width="1" opacity="0.6"/>
<path d="M1097.17 776.8V756.8M1092.57 756.8H1101.77M1097.17 863.1V902.5M1092.57 902.5H1101.77" stroke="#ff0000" stroke-width="2" fill="none"/><rect x="1089.47" y="776.8" width="15.4" height="86.3" fill="#ffa6a6" stroke="#ff0000" stroke-width="2" stroke-linejoin="round"/><path d="M1089.47 800.3H1104.87" stroke="#ff0000" stroke-width="2"/><rect x="1094.17" y="816.9" width="6" height="5.4" fill="none" stroke="#ff0000" stroke-width="1" opacity="0.6"/>
<path d="M1121.83 832.8V828.8M1117.23 828.8H1126.43M1121.83 843.3V845.6M1117.23 845.6H1126.43" stroke="#0000ff" stroke-width="2" fill="none"/><rect x="1114.13" y="832.8" width="15.4" height="10.5" fill="#a6a6ff" stroke="#0000ff" stroke-width="2" stroke-linejoin="round"/><path d="M1114.13 841.1H1129.53" stroke="#0000ff" stroke-width="2"/><rect x="1118.83" y="833.9" width="6" height="5.4" fill="none" stroke="#0000ff" stroke-width="1" opacity="0.6"/>
<path d="M1146.49 745.1V713.3M1141.89 713.3H1151.09M1146.49 816.9V836.6M1141.89 836.6H1151.09" stroke="#800080" stroke-width="2" fill="none"/><rect x="1138.79" y="745.1" width="15.4" height="71.8" fill="#d3a6d3" stroke="#800080" stroke-width="2" stroke-linejoin="round"/><path d="M1138.79 792.2H1154.19" stroke="#800080" stroke-width="2"/><rect x="1143.49" y="777.8" width="6" height="5.4" fill="none" stroke="#800080" stroke-width="1" opacity="0.6"/>
<path d="M1195.81 769.3V758.1M1191.21 758.1H1200.41M1195.81 796.2V804.8M1191.21 804.8H1200.41" stroke="#0b6646" stroke-width="2" fill="none"/><rect x="1188.11" y="769.3" width="15.4" height="26.9" fill="#a6c6b9" stroke="#0b6646" stroke-width="2" stroke-linejoin="round"/><path d="M1188.11 784.6H1203.51" stroke="#0b6646" stroke-width="2"/><rect x="1192.81" y="778.5" width="6" height="5.4" fill="none" stroke="#0b6646" stroke-width="1" opacity="0.6"/>
<path d="M1220.47 737.2V730.1M1215.87 730.1H1225.07M1220.47 754.1V759.2M1215.87 759.2H1225.07" stroke="#ff0000" stroke-width="2" fill="none"/><rect x="1212.77" y="737.2" width="15.4" height="16.9" fill="#ffa6a6" stroke="#ff0000" stroke-width="2" stroke-linejoin="round"/><path d="M1212.77 748H1228.17" stroke="#ff0000" stroke-width="2"/><rect x="1217.47" y="741.5" width="6" height="5.4" fill="none" stroke="#ff0000" stroke-width="1" opacity="0.6"/>
<path d="M1245.13 757V748M1240.53 748H1249.73M1245.13 779V786.1M1240.53 786.1H1249.73" stroke="#0000ff" stroke-width="2" fill="none"/><rect x="1237.43" y="757" width="15.4" height="22" fill="#a6a6ff" stroke="#0000ff" stroke-width="2" stroke-linejoin="round"/><path d="M1237.43 770.4H1252.83" stroke="#0000ff" stroke-width="2"/><rect x="1242.13" y="764.8" width="6" height="5.4" fill="none" stroke="#0000ff" stroke-width="1" opacity="0.6"/>
<path d="M1269.79 717.3V710.6M1265.19 710.6H1274.39M1269.79 736.4V744.7M1265.19 744.7H1274.39" stroke="#800080" stroke-width="2" fill="none"/><rect x="1262.09" y="717.3" width="15.4" height="19.1" fill="#d3a6d3" stroke="#800080" stroke-width="2" stroke-linejoin="round"/><path d="M1262.09 724.9H1277.49" stroke="#800080" stroke-width="2"/><rect x="1266.79" y="724.7" width="6" height="5.4" fill="none" stroke="#800080" stroke-width="1" opacity="0.6"/>
<path d="M1319.11 718.9V717.1M1314.51 717.1H1323.71M1319.11 736.8V745.8M1314.51 745.8H1323.71" stroke="#0b6646" stroke-width="2" fill="none"/><rect x="1311.41" y="718.9" width="15.4" height="17.9" fill="#a6c6b9" stroke="#0b6646" stroke-width="2" stroke-linejoin="round"/><path d="M1311.41 722.2H1326.81" stroke="#0b6646" stroke-width="2"/><rect x="1316.11" y="725.1" width="6" height="5.4" fill="none" stroke="#0b6646" stroke-width="1" opacity="0.6"/>
<path d="M1343.77 647.5V635.9M1339.17 635.9H1348.37M1343.77 685.2V702M1339.17 702H1348.37" stroke="#ff0000" stroke-width="2" fill="none"/><rect x="1336.07" y="647.5" width="15.4" height="37.7" fill="#ffa6a6" stroke="#ff0000" stroke-width="2" stroke-linejoin="round"/><path d="M1336.07 661H1351.47" stroke="#ff0000" stroke-width="2"/><rect x="1340.77" y="663.9" width="6" height="5.4" fill="none" stroke="#ff0000" stroke-width="1" opacity="0.6"/>
<path d="M1368.43 698.7V688.6M1363.83 688.6H1373.03M1368.43 722.9V731.2M1363.83 731.2H1373.03" stroke="#0000ff" stroke-width="2" fill="none"/><rect x="1360.73" y="698.7" width="15.4" height="24.2" fill="#a6a6ff" stroke="#0000ff" stroke-width="2" stroke-linejoin="round"/><path d="M1360.73 713.3H1376.13" stroke="#0000ff" stroke-width="2"/><rect x="1365.43" y="706.7" width="6" height="5.4" fill="none" stroke="#0000ff" stroke-width="1" opacity="0.6"/>
<path d="M1393.09 668.8V660.6M1388.49 660.6H1397.69M1393.09 698V711.5M1388.49 711.5H1397.69" stroke="#800080" stroke-width="2" fill="none"/><rect x="1385.39" y="668.8" width="15.4" height="29.2" fill="#d3a6d3" stroke="#800080" stroke-width="2" stroke-linejoin="round"/><path d="M1385.39 678.5H1400.79" stroke="#800080" stroke-width="2"/><rect x="1390.09" y="680.7" width="6" height="5.4" fill="none" stroke="#800080" stroke-width="1" opacity="0.6"/>
<rect x="800.8" y="586.4" width="617.5" height="492.2" fill="none" stroke="#000" stroke-width="2.1"/>
<path d="M800.8 1058.8h9.5M800.8 1021h9.5M800.8 983.2h9.5M800.8 945.4h9.5M800.8 907.6h9.5M800.8 869.8h9.5M800.8 832h9.5M800.8 794.2h9.5M800.8 756.4h9.5M800.8 718.6h9.5M800.8 680.8h9.5M800.8 643h9.5M800.8 605.2h9.5M800.8 1039.9h4.8M800.8 1002.1h4.8M800.8 964.3h4.8M800.8 926.5h4.8M800.8 888.7h4.8M800.8 850.9h4.8M800.8 813.1h4.8M800.8 775.3h4.8M800.8 737.5h4.8M800.8 699.7h4.8M800.8 661.9h4.8M800.8 624.1h4.8M862.9 1078.6v-9.5M986.2 1078.6v-9.5M1109.5 1078.6v-9.5M1232.8 1078.6v-9.5M1356.1 1078.6v-9.5" stroke="#000" stroke-width="2.1" fill="none"/>
<text transform="translate(790.3 1066.32) scale(1 1.1)" font-size="20.5" text-anchor="end">49</text>
<text transform="translate(790.3 1028.52) scale(1 1.1)" font-size="20.5" text-anchor="end">50</text>
<text transform="translate(790.3 990.72) scale(1 1.1)" font-size="20.5" text-anchor="end">51</text>
<text transform="translate(790.3 952.92) scale(1 1.1)" font-size="20.5" text-anchor="end">52</text>
<text transform="translate(790.3 915.12) scale(1 1.1)" font-size="20.5" text-anchor="end">53</text>
<text transform="translate(790.3 877.32) scale(1 1.1)" font-size="20.5" text-anchor="end">54</text>
<text transform="translate(790.3 839.52) scale(1 1.1)" font-size="20.5" text-anchor="end">55</text>
<text transform="translate(790.3 801.72) scale(1 1.1)" font-size="20.5" text-anchor="end">56</text>
<text transform="translate(790.3 763.92) scale(1 1.1)" font-size="20.5" text-anchor="end">57</text>
<text transform="translate(790.3 726.12) scale(1 1.1)" font-size="20.5" text-anchor="end">58</text>
<text transform="translate(790.3 688.32) scale(1 1.1)" font-size="20.5" text-anchor="end">59</text>
<text transform="translate(790.3 650.52) scale(1 1.1)" font-size="20.5" text-anchor="end">60</text>
<text transform="translate(790.3 612.72) scale(1 1.1)" font-size="20.5" text-anchor="end">61</text>
<text transform="translate(862.9 1102.6) scale(1 1.12)" font-size="20.6" text-anchor="middle">0</text>
<text transform="translate(986.2 1102.6) scale(1 1.12)" font-size="20.6" text-anchor="middle">5</text>
<text transform="translate(1109.5 1102.6) scale(1 1.12)" font-size="20.6" text-anchor="middle">10</text>
<text transform="translate(1232.8 1102.6) scale(1 1.12)" font-size="20.6" text-anchor="middle">20</text>
<text transform="translate(1356.1 1102.6) scale(1 1.12)" font-size="20.6" text-anchor="middle">30</text>
<text transform="translate(756 832.2) rotate(-90)" font-size="25.5" text-anchor="middle">Porosity (%)</text>
<text transform="translate(1124.6 1130.1) scale(1 1.02)" font-size="25.9" text-anchor="middle" textLength="318.5" lengthAdjust="spacingAndGlyphs">Freeze-thaw cycle times (time)</text>
<text x="822.5" y="649" font-size="25.6">(d)</text>
<rect x="1076.2" y="592.6" width="46.81" height="22.91" rx="1" fill="#a6c6b9" stroke="#0b6646" stroke-width="2"/>
<text x="1128.99" y="609.93" font-size="20.92">CK</text>
<rect x="1158.37" y="592.6" width="46.81" height="22.91" rx="1" fill="#ffa6a6" stroke="#ff0000" stroke-width="2"/>
<text x="1211.16" y="609.93" font-size="20.92">B</text>
<rect x="1225.6" y="592.6" width="46.81" height="22.91" rx="1" fill="#a6a6ff" stroke="#0000ff" stroke-width="2"/>
<text x="1278.39" y="609.93" font-size="20.92">C</text>
<rect x="1292.33" y="592.6" width="46.81" height="22.91" rx="1" fill="#d3a6d3" stroke="#800080" stroke-width="2"/>
<text x="1345.12" y="609.93" font-size="20.92">CB</text>
<path d="M103.69 1638.7V1631.9M99.09 1631.9H108.29M103.69 1671.8V1687.3M99.09 1687.3H108.29" stroke="#0b6646" stroke-width="2" fill="none"/><rect x="95.99" y="1638.7" width="15.4" height="33.1" fill="#a6c6b9" stroke="#0b6646" stroke-width="2" stroke-linejoin="round"/><path d="M95.99 1646.1H111.39" stroke="#0b6646" stroke-width="2"/><rect x="100.69" y="1652.1" width="6" height="5.4" fill="none" stroke="#0b6646" stroke-width="1" opacity="0.6"/>
<path d="M128.36 1481.2V1474.3M123.76 1474.3H132.96M128.36 1533.7V1559M123.76 1559H132.96" stroke="#ff0000" stroke-width="2" fill="none"/><rect x="120.66" y="1481.2" width="15.4" height="52.5" fill="#ffa6a6" stroke="#ff0000" stroke-width="2" stroke-linejoin="round"/><path d="M120.66 1488.4H136.06" stroke="#ff0000" stroke-width="2"/><rect x="125.36" y="1504.8" width="6" height="5.4" fill="none" stroke="#ff0000" stroke-width="1" opacity="0.6"/>
<path d="M153.03 1427V1409.1M148.44 1409.1H157.63M153.03 1464.4V1471.1M148.44 1471.1H157.63" stroke="#0000ff" stroke-width="2" fill="none"/><rect x="145.34" y="1427" width="15.4" height="37.4" fill="#a6a6ff" stroke="#0000ff" stroke-width="2" stroke-linejoin="round"/><path d="M145.34 1457H160.73" stroke="#0000ff" stroke-width="2"/><rect x="150.03" y="1443.1" width="6" height="5.4" fill="none" stroke="#0000ff" stroke-width="1" opacity="0.6"/>
<path d="M177.7 1327.5V1321.9M173.1 1321.9H182.3M177.7 1388V1417.6M173.1 1417.6H182.3" stroke="#800080" stroke-width="2" fill="none"/><rect x="170" y="1327.5" width="15.4" height="60.5" fill="#d3a6d3" stroke="#800080" stroke-width="2" stroke-linejoin="round"/><path d="M170 1332.4H185.4" stroke="#800080" stroke-width="2"/><rect x="174.7" y="1354.4" width="6" height="5.4" fill="none" stroke="#800080" stroke-width="1" opacity="0.6"/>
<path d="M227 1559.5V1554.6M222.4 1554.6H231.59M227 1593.1V1610M222.4 1610H231.59" stroke="#0b6646" stroke-width="2" fill="none"/><rect x="219.3" y="1559.5" width="15.4" height="33.6" fill="#a6c6b9" stroke="#0b6646" stroke-width="2" stroke-linejoin="round"/><path d="M219.3 1563.5H234.69" stroke="#0b6646" stroke-width="2"/><rect x="224" y="1573.2" width="6" height="5.4" fill="none" stroke="#0b6646" stroke-width="1" opacity="0.6"/>
<path d="M251.66 1446.9V1438.4M247.06 1438.4H256.26M251.66 1498V1522.5M247.06 1522.5H256.26" stroke="#ff0000" stroke-width="2" fill="none"/><rect x="243.97" y="1446.9" width="15.4" height="51.1" fill="#ffa6a6" stroke="#ff0000" stroke-width="2" stroke-linejoin="round"/><path d="M243.97 1455.4H259.37" stroke="#ff0000" stroke-width="2"/><rect x="248.66" y="1469.3" width="6" height="5.4" fill="none" stroke="#ff0000" stroke-width="1" opacity="0.6"/>
<path d="M276.33 1406.9V1399M271.73 1399H280.94M276.33 1439.5V1454.1M271.73 1454.1H280.94" stroke="#0000ff" stroke-width="2" fill="none"/><rect x="268.63" y="1406.9" width="15.4" height="32.6" fill="#a6a6ff" stroke="#0000ff" stroke-width="2" stroke-linejoin="round"/><path d="M268.63 1415.4H284.03" stroke="#0000ff" stroke-width="2"/><rect x="273.33" y="1420.5" width="6" height="5.4" fill="none" stroke="#0000ff" stroke-width="1" opacity="0.6"/>
<path d="M301 1290.9V1282.4M296.4 1282.4H305.61M301 1332V1351.5M296.4 1351.5H305.61" stroke="#800080" stroke-width="2" fill="none"/><rect x="293.31" y="1290.9" width="15.4" height="41.1" fill="#d3a6d3" stroke="#800080" stroke-width="2" stroke-linejoin="round"/><path d="M293.31 1299.9H308.7" stroke="#800080" stroke-width="2"/><rect x="298" y="1308.4" width="6" height="5.4" fill="none" stroke="#800080" stroke-width="1" opacity="0.6"/>
<path d="M350.39 1523.8V1514.2M345.79 1514.2H355M350.39 1551.6V1561.7M345.79 1561.7H355" stroke="#0b6646" stroke-width="2" fill="none"/><rect x="342.69" y="1523.8" width="15.4" height="27.8" fill="#a6c6b9" stroke="#0b6646" stroke-width="2" stroke-linejoin="round"/><path d="M342.69 1536.2H358.09" stroke="#0b6646" stroke-width="2"/><rect x="347.39" y="1535" width="6" height="5.4" fill="none" stroke="#0b6646" stroke-width="1" opacity="0.6"/>
<path d="M375.06 1408.7V1400.8M370.46 1400.8H379.67M375.06 1467.8V1497.4M370.46 1497.4H379.67" stroke="#ff0000" stroke-width="2" fill="none"/><rect x="367.37" y="1408.7" width="15.4" height="59.1" fill="#ffa6a6" stroke="#ff0000" stroke-width="2" stroke-linejoin="round"/><path d="M367.37 1417H382.76" stroke="#ff0000" stroke-width="2"/><rect x="372.06" y="1435.7" width="6" height="5.4" fill="none" stroke="#ff0000" stroke-width="1" opacity="0.6"/>
<path d="M399.73 1366.4V1360.8M395.13 1360.8H404.33M399.73 1398.5V1413.7M395.13 1413.7H404.33" stroke="#0000ff" stroke-width="2" fill="none"/><rect x="392.03" y="1366.4" width="15.4" height="32.1" fill="#a6a6ff" stroke="#0000ff" stroke-width="2" stroke-linejoin="round"/><path d="M392.03 1373.1H407.43" stroke="#0000ff" stroke-width="2"/><rect x="396.73" y="1379.6" width="6" height="5.4" fill="none" stroke="#0000ff" stroke-width="1" opacity="0.6"/>
<path d="M424.4 1255.6V1251.1M419.8 1251.1H429M424.4 1311.7V1340.2M419.8 1340.2H429" stroke="#800080" stroke-width="2" fill="none"/><rect x="416.7" y="1255.6" width="15.4" height="56.1" fill="#d3a6d3" stroke="#800080" stroke-width="2" stroke-linejoin="round"/><path d="M416.7 1259.4H432.1" stroke="#800080" stroke-width="2"/><rect x="421.4" y="1281" width="6" height="5.4" fill="none" stroke="#800080" stroke-width="1" opacity="0.6"/>
<path d="M473.69 1463.1V1455.7M469.09 1455.7H478.3M473.69 1497.6V1512.9M469.09 1512.9H478.3" stroke="#0b6646" stroke-width="2" fill="none"/><rect x="466" y="1463.1" width="15.4" height="34.5" fill="#a6c6b9" stroke="#0b6646" stroke-width="2" stroke-linejoin="round"/><path d="M466 1471.4H481.39" stroke="#0b6646" stroke-width="2"/><rect x="470.69" y="1477.2" width="6" height="5.4" fill="none" stroke="#0b6646" stroke-width="1" opacity="0.6"/>
<path d="M498.37 1386.6V1379.4M493.76 1379.4H502.97M498.37 1412.6V1424.7M493.76 1424.7H502.97" stroke="#ff0000" stroke-width="2" fill="none"/><rect x="490.67" y="1386.6" width="15.4" height="26" fill="#ffa6a6" stroke="#ff0000" stroke-width="2" stroke-linejoin="round"/><path d="M490.67 1394.7H506.06" stroke="#ff0000" stroke-width="2"/><rect x="495.37" y="1396.9" width="6" height="5.4" fill="none" stroke="#ff0000" stroke-width="1" opacity="0.6"/>
<path d="M523.03 1335V1327.8M518.43 1327.8H527.63M523.03 1364.8V1378.7M518.43 1378.7H527.63" stroke="#0000ff" stroke-width="2" fill="none"/><rect x="515.33" y="1335" width="15.4" height="29.8" fill="#a6a6ff" stroke="#0000ff" stroke-width="2" stroke-linejoin="round"/><path d="M515.33 1342H530.74" stroke="#0000ff" stroke-width="2"/><rect x="520.03" y="1346.9" width="6" height="5.4" fill="none" stroke="#0000ff" stroke-width="1" opacity="0.6"/>
<path d="M547.71 1229.2V1222.4M543.11 1222.4H552.31M547.71 1274.7V1297.1M543.11 1297.1H552.31" stroke="#800080" stroke-width="2" fill="none"/><rect x="540" y="1229.2" width="15.4" height="45.5" fill="#d3a6d3" stroke="#800080" stroke-width="2" stroke-linejoin="round"/><path d="M540 1235.4H555.41" stroke="#800080" stroke-width="2"/><rect x="544.71" y="1248.9" width="6" height="5.4" fill="none" stroke="#800080" stroke-width="1" opacity="0.6"/>
<path d="M597.1 1443.8V1433.9M592.5 1433.9H601.7M597.1 1472.5V1483.3M592.5 1483.3H601.7" stroke="#0b6646" stroke-width="2" fill="none"/><rect x="589.39" y="1443.8" width="15.4" height="28.7" fill="#a6c6b9" stroke="#0b6646" stroke-width="2" stroke-linejoin="round"/><path d="M589.39 1456.4H604.8" stroke="#0b6646" stroke-width="2"/><rect x="594.1" y="1455.3" width="6" height="5.4" fill="none" stroke="#0b6646" stroke-width="1" opacity="0.6"/>
<path d="M621.76 1358.1V1351.8M617.16 1351.8H626.37M621.76 1390V1404.1M617.16 1404.1H626.37" stroke="#ff0000" stroke-width="2" fill="none"/><rect x="614.06" y="1358.1" width="15.4" height="31.9" fill="#ffa6a6" stroke="#ff0000" stroke-width="2" stroke-linejoin="round"/><path d="M614.06 1365.3H629.47" stroke="#ff0000" stroke-width="2"/><rect x="618.76" y="1371.1" width="6" height="5.4" fill="none" stroke="#ff0000" stroke-width="1" opacity="0.6"/>
<path d="M646.44 1313.3V1306.5M641.84 1306.5H651.04M646.44 1335.7V1345.3M641.84 1345.3H651.04" stroke="#0000ff" stroke-width="2" fill="none"/><rect x="638.74" y="1313.3" width="15.4" height="22.4" fill="#a6a6ff" stroke="#0000ff" stroke-width="2" stroke-linejoin="round"/><path d="M638.74 1321.6H654.14" stroke="#0000ff" stroke-width="2"/><rect x="643.44" y="1322.2" width="6" height="5.4" fill="none" stroke="#0000ff" stroke-width="1" opacity="0.6"/>
<path d="M671.11 1223.1V1214.6M666.5 1214.6H675.71M671.11 1259.4V1275.8M666.5 1275.8H675.71" stroke="#800080" stroke-width="2" fill="none"/><rect x="663.4" y="1223.1" width="15.4" height="36.3" fill="#d3a6d3" stroke="#800080" stroke-width="2" stroke-linejoin="round"/><path d="M663.4 1233.2H678.81" stroke="#800080" stroke-width="2"/><rect x="668.11" y="1238.1" width="6" height="5.4" fill="none" stroke="#800080" stroke-width="1" opacity="0.6"/>
<rect x="79.1" y="1203.3" width="616.8" height="491.1" fill="none" stroke="#000" stroke-width="2.2"/>
<path d="M79.1 1694h9.5M79.1 1595.85h9.5M79.1 1497.7h9.5M79.1 1399.55h9.5M79.1 1301.4h9.5M79.1 1203.25h9.5M79.1 1644.92h4.8M79.1 1546.78h4.8M79.1 1448.62h4.8M79.1 1350.47h4.8M79.1 1252.33h4.8M140.7 1694.4v-9.5M264 1694.4v-9.5M387.4 1694.4v-9.5M510.7 1694.4v-9.5M634.1 1694.4v-9.5" stroke="#000" stroke-width="2.2" fill="none"/>
<text transform="translate(67.5 1702.51) scale(1 1.15)" font-size="20.1" text-anchor="end">20</text>
<text transform="translate(67.5 1604.36) scale(1 1.15)" font-size="20.1" text-anchor="end">25</text>
<text transform="translate(67.5 1506.21) scale(1 1.15)" font-size="20.1" text-anchor="end">30</text>
<text transform="translate(67.5 1408.06) scale(1 1.15)" font-size="20.1" text-anchor="end">35</text>
<text transform="translate(67.5 1309.91) scale(1 1.15)" font-size="20.1" text-anchor="end">40</text>
<text transform="translate(67.5 1211.76) scale(1 1.15)" font-size="20.1" text-anchor="end">45</text>
<text transform="translate(140.7 1716.9) scale(1 1.07)" font-size="20.8" text-anchor="middle">0</text>
<text transform="translate(264 1716.9) scale(1 1.07)" font-size="20.8" text-anchor="middle">5</text>
<text transform="translate(387.4 1716.9) scale(1 1.07)" font-size="20.8" text-anchor="middle">10</text>
<text transform="translate(510.7 1716.9) scale(1 1.07)" font-size="20.8" text-anchor="middle">20</text>
<text transform="translate(634.1 1716.9) scale(1 1.07)" font-size="20.8" text-anchor="middle">30</text>
<text transform="translate(29.2 1460) rotate(-90)" font-size="25.5" text-anchor="middle">Soil water content (%)</text>
<text transform="translate(420.9 1750.1) scale(1 1.035)" font-size="25.9" text-anchor="middle" textLength="319.5" lengthAdjust="spacingAndGlyphs">Freeze-thaw cycle times (time)</text>
<text x="89.2" y="1267" font-size="25.6">(e)</text>
<rect x="88.5" y="1208.3" width="47" height="23" rx="1" fill="#a6c6b9" stroke="#0b6646" stroke-width="2"/>
<text x="141.5" y="1226.8" font-size="21">CK</text>
<rect x="171" y="1208.3" width="47" height="23" rx="1" fill="#ffa6a6" stroke="#ff0000" stroke-width="2"/>
<text x="224" y="1226.8" font-size="21">B</text>
<rect x="238.5" y="1208.3" width="47" height="23" rx="1" fill="#a6a6ff" stroke="#0000ff" stroke-width="2"/>
<text x="291.5" y="1226.8" font-size="21">C</text>
<rect x="305.5" y="1208.3" width="47" height="23" rx="1" fill="#d3a6d3" stroke="#800080" stroke-width="2"/>
<text x="358.5" y="1226.8" font-size="21">CB</text>
<path d="M827.75 1582.8V1573.8M823.15 1573.8H832.36M827.75 1611.9V1623.8M823.15 1623.8H832.36" stroke="#0b6646" stroke-width="2" fill="none"/><rect x="820.05" y="1582.8" width="15.4" height="29.1" fill="#a6c6b9" stroke="#0b6646" stroke-width="2" stroke-linejoin="round"/><path d="M820.05 1593.5H835.46" stroke="#0b6646" stroke-width="2"/><rect x="824.75" y="1594.7" width="6" height="5.4" fill="none" stroke="#0b6646" stroke-width="1" opacity="0.6"/>
<path d="M852.38 1323.4V1307.7M847.78 1307.7H856.99M852.38 1354.8V1360.4M847.78 1360.4H856.99" stroke="#ff0000" stroke-width="2" fill="none"/><rect x="844.68" y="1323.4" width="15.4" height="31.4" fill="#ffa6a6" stroke="#ff0000" stroke-width="2" stroke-linejoin="round"/><path d="M844.68 1349.2H860.09" stroke="#ff0000" stroke-width="2"/><rect x="849.38" y="1335.8" width="6" height="5.4" fill="none" stroke="#ff0000" stroke-width="1" opacity="0.6"/>
<path d="M877.02 1324.6V1319M872.42 1319H881.62M877.02 1347.7V1357.7M872.42 1357.7H881.62" stroke="#0000ff" stroke-width="2" fill="none"/><rect x="869.32" y="1324.6" width="15.4" height="23.1" fill="#a6a6ff" stroke="#0000ff" stroke-width="2" stroke-linejoin="round"/><path d="M869.32 1330.8H884.72" stroke="#0000ff" stroke-width="2"/><rect x="874.02" y="1333.1" width="6" height="5.4" fill="none" stroke="#0000ff" stroke-width="1" opacity="0.6"/>
<path d="M901.65 1249V1235.5M897.05 1235.5H906.25M901.65 1275.9V1278.6M897.05 1278.6H906.25" stroke="#800080" stroke-width="2" fill="none"/><rect x="893.95" y="1249" width="15.4" height="26.9" fill="#d3a6d3" stroke="#800080" stroke-width="2" stroke-linejoin="round"/><path d="M893.95 1274.1H909.35" stroke="#800080" stroke-width="2"/><rect x="898.65" y="1259.5" width="6" height="5.4" fill="none" stroke="#800080" stroke-width="1" opacity="0.6"/>
<path d="M950.85 1594V1590.2M946.25 1590.2H955.45M950.85 1602.5V1603M946.25 1603H955.45" stroke="#0b6646" stroke-width="2" fill="none"/><rect x="943.15" y="1594" width="15.4" height="8.5" fill="#a6c6b9" stroke="#0b6646" stroke-width="2" stroke-linejoin="round"/><path d="M943.15 1600.7H958.55" stroke="#0b6646" stroke-width="2"/><rect x="947.85" y="1595.3" width="6" height="5.4" fill="none" stroke="#0b6646" stroke-width="1" opacity="0.6"/>
<path d="M975.48 1370.1V1366.7M970.88 1366.7H980.08M975.48 1385.8V1393M970.88 1393H980.08" stroke="#ff0000" stroke-width="2" fill="none"/><rect x="967.78" y="1370.1" width="15.4" height="15.7" fill="#ffa6a6" stroke="#ff0000" stroke-width="2" stroke-linejoin="round"/><path d="M967.78 1372.8H983.18" stroke="#ff0000" stroke-width="2"/><rect x="972.48" y="1374.6" width="6" height="5.4" fill="none" stroke="#ff0000" stroke-width="1" opacity="0.6"/>
<path d="M1000.12 1351.5V1334.7M995.51 1334.7H1004.72M1000.12 1385.8V1387.8M995.51 1387.8H1004.72" stroke="#0000ff" stroke-width="2" fill="none"/><rect x="992.41" y="1351.5" width="15.4" height="34.3" fill="#a6a6ff" stroke="#0000ff" stroke-width="2" stroke-linejoin="round"/><path d="M992.41 1383.3H1007.82" stroke="#0000ff" stroke-width="2"/><rect x="997.12" y="1366" width="6" height="5.4" fill="none" stroke="#0000ff" stroke-width="1" opacity="0.6"/>
<path d="M1024.74 1264V1253.2M1020.14 1253.2H1029.34M1024.74 1291.4V1300.3M1020.14 1300.3H1029.34" stroke="#800080" stroke-width="2" fill="none"/><rect x="1017.04" y="1264" width="15.4" height="27.4" fill="#d3a6d3" stroke="#800080" stroke-width="2" stroke-linejoin="round"/><path d="M1017.04 1279.7H1032.44" stroke="#800080" stroke-width="2"/><rect x="1021.74" y="1274.1" width="6" height="5.4" fill="none" stroke="#800080" stroke-width="1" opacity="0.6"/>
<path d="M1073.96 1598.9V1594.7M1069.36 1594.7H1078.56M1073.96 1609V1611.9M1069.36 1611.9H1078.56" stroke="#0b6646" stroke-width="2" fill="none"/><rect x="1066.26" y="1598.9" width="15.4" height="10.1" fill="#a6c6b9" stroke="#0b6646" stroke-width="2" stroke-linejoin="round"/><path d="M1066.26 1605.2H1081.66" stroke="#0b6646" stroke-width="2"/><rect x="1070.96" y="1601.3" width="6" height="5.4" fill="none" stroke="#0b6646" stroke-width="1" opacity="0.6"/>
<path d="M1098.59 1375.5V1369.4M1093.99 1369.4H1103.18M1098.59 1389.1V1394.5M1093.99 1394.5H1103.18" stroke="#ff0000" stroke-width="2" fill="none"/><rect x="1090.88" y="1375.5" width="15.4" height="13.6" fill="#ffa6a6" stroke="#ff0000" stroke-width="2" stroke-linejoin="round"/><path d="M1090.88 1383.3H1106.29" stroke="#ff0000" stroke-width="2"/><rect x="1095.59" y="1379" width="6" height="5.4" fill="none" stroke="#ff0000" stroke-width="1" opacity="0.6"/>
<path d="M1123.22 1361.5V1349.2M1118.62 1349.2H1127.82M1123.22 1388.2V1393.2M1118.62 1393.2H1127.82" stroke="#0000ff" stroke-width="2" fill="none"/><rect x="1115.52" y="1361.5" width="15.4" height="26.7" fill="#a6a6ff" stroke="#0000ff" stroke-width="2" stroke-linejoin="round"/><path d="M1115.52 1382.5H1130.92" stroke="#0000ff" stroke-width="2"/><rect x="1120.22" y="1372" width="6" height="5.4" fill="none" stroke="#0000ff" stroke-width="1" opacity="0.6"/>
<path d="M1147.85 1295.6V1294.8M1143.25 1294.8H1152.44M1147.85 1300.8V1302M1143.25 1302H1152.44" stroke="#800080" stroke-width="2" fill="none"/><rect x="1140.14" y="1295.6" width="15.4" height="5.2" fill="#d3a6d3" stroke="#800080" stroke-width="2" stroke-linejoin="round"/><path d="M1140.14 1298.4H1155.55" stroke="#800080" stroke-width="2"/><rect x="1144.85" y="1295.7" width="6" height="5.4" fill="none" stroke="#800080" stroke-width="1" opacity="0.6"/>
<path d="M1197.15 1611.3V1602.3M1192.56 1602.3H1201.75M1197.15 1632.6V1639.5M1192.56 1639.5H1201.75" stroke="#0b6646" stroke-width="2" fill="none"/><rect x="1189.45" y="1611.3" width="15.4" height="21.3" fill="#a6c6b9" stroke="#0b6646" stroke-width="2" stroke-linejoin="round"/><path d="M1189.45 1623.1H1204.86" stroke="#0b6646" stroke-width="2"/><rect x="1194.15" y="1617.8" width="6" height="5.4" fill="none" stroke="#0b6646" stroke-width="1" opacity="0.6"/>
<path d="M1221.78 1380.6V1373.5M1217.18 1373.5H1226.38M1221.78 1396.8V1401.3M1217.18 1401.3H1226.38" stroke="#ff0000" stroke-width="2" fill="none"/><rect x="1214.08" y="1380.6" width="15.4" height="16.2" fill="#ffa6a6" stroke="#ff0000" stroke-width="2" stroke-linejoin="round"/><path d="M1214.08 1393.7H1229.48" stroke="#ff0000" stroke-width="2"/><rect x="1218.78" y="1385.8" width="6" height="5.4" fill="none" stroke="#ff0000" stroke-width="1" opacity="0.6"/>
<path d="M1246.41 1373V1362.7M1241.82 1362.7H1251.01M1246.41 1393.7V1394.5M1241.82 1394.5H1251.01" stroke="#0000ff" stroke-width="2" fill="none"/><rect x="1238.71" y="1373" width="15.4" height="20.7" fill="#a6a6ff" stroke="#0000ff" stroke-width="2" stroke-linejoin="round"/><path d="M1238.71 1392.5H1254.12" stroke="#0000ff" stroke-width="2"/><rect x="1243.41" y="1379.8" width="6" height="5.4" fill="none" stroke="#0000ff" stroke-width="1" opacity="0.6"/>
<path d="M1271.04 1308.4V1300.1M1266.44 1300.1H1275.64M1271.04 1327.7V1334.6M1266.44 1334.6H1275.64" stroke="#800080" stroke-width="2" fill="none"/><rect x="1263.34" y="1308.4" width="15.4" height="19.3" fill="#d3a6d3" stroke="#800080" stroke-width="2" stroke-linejoin="round"/><path d="M1263.34 1320.6H1278.74" stroke="#800080" stroke-width="2"/><rect x="1268.04" y="1314.3" width="6" height="5.4" fill="none" stroke="#800080" stroke-width="1" opacity="0.6"/>
<path d="M1320.26 1618.7V1616.4M1315.66 1616.4H1324.86M1320.26 1654.5V1672.5M1315.66 1672.5H1324.86" stroke="#0b6646" stroke-width="2" fill="none"/><rect x="1312.56" y="1618.7" width="15.4" height="35.8" fill="#a6c6b9" stroke="#0b6646" stroke-width="2" stroke-linejoin="round"/><path d="M1312.56 1620.9H1327.96" stroke="#0b6646" stroke-width="2"/><rect x="1317.26" y="1633.5" width="6" height="5.4" fill="none" stroke="#0b6646" stroke-width="1" opacity="0.6"/>
<path d="M1344.88 1434.8V1434.8M1340.29 1434.8H1349.48M1344.88 1465V1479.6M1340.29 1479.6H1349.48" stroke="#ff0000" stroke-width="2" fill="none"/><rect x="1337.18" y="1434.8" width="15.4" height="30.2" fill="#ffa6a6" stroke="#ff0000" stroke-width="2" stroke-linejoin="round"/><path d="M1337.18 1435H1352.59" stroke="#ff0000" stroke-width="2"/><rect x="1341.88" y="1446.6" width="6" height="5.4" fill="none" stroke="#ff0000" stroke-width="1" opacity="0.6"/>
<path d="M1369.52 1426.9V1415.7M1364.92 1415.7H1374.12M1369.52 1450V1453.4M1364.92 1453.4H1374.12" stroke="#0000ff" stroke-width="2" fill="none"/><rect x="1361.82" y="1426.9" width="15.4" height="23.1" fill="#a6a6ff" stroke="#0000ff" stroke-width="2" stroke-linejoin="round"/><path d="M1361.82 1447.8H1377.22" stroke="#0000ff" stroke-width="2"/><rect x="1366.52" y="1435.4" width="6" height="5.4" fill="none" stroke="#0000ff" stroke-width="1" opacity="0.6"/>
<path d="M1394.14 1382.3V1376.3M1389.55 1376.3H1398.74M1394.14 1398V1402.8M1389.55 1402.8H1398.74" stroke="#800080" stroke-width="2" fill="none"/><rect x="1386.44" y="1382.3" width="15.4" height="15.7" fill="#d3a6d3" stroke="#800080" stroke-width="2" stroke-linejoin="round"/><path d="M1386.44 1392.5H1401.85" stroke="#800080" stroke-width="2"/><rect x="1391.14" y="1386.3" width="6" height="5.4" fill="none" stroke="#800080" stroke-width="1" opacity="0.6"/>
<rect x="802.3" y="1203.7" width="616.1" height="490.5" fill="none" stroke="#000" stroke-width="2.1"/>
<path d="M802.3 1694.4h9.5M802.3 1628.9h9.5M802.3 1563.4h9.5M802.3 1497.9h9.5M802.3 1432.4h9.5M802.3 1366.9h9.5M802.3 1301.4h9.5M802.3 1235.9h9.5M802.3 1661.65h4.8M802.3 1596.15h4.8M802.3 1530.65h4.8M802.3 1465.15h4.8M802.3 1399.65h4.8M802.3 1334.15h4.8M802.3 1268.65h4.8M864.7 1694.2v-9.5M987.8 1694.2v-9.5M1110.9 1694.2v-9.5M1234.1 1694.2v-9.5M1357.2 1694.2v-9.5" stroke="#000" stroke-width="2.1" fill="none"/>
<text transform="translate(791.5 1701) scale(1 1.08)" font-size="20.0" text-anchor="end">0.2</text>
<text transform="translate(791.5 1635.5) scale(1 1.08)" font-size="20.0" text-anchor="end">0.4</text>
<text transform="translate(791.5 1570) scale(1 1.08)" font-size="20.0" text-anchor="end">0.6</text>
<text transform="translate(791.5 1504.5) scale(1 1.08)" font-size="20.0" text-anchor="end">0.8</text>
<text transform="translate(791.5 1439) scale(1 1.08)" font-size="20.0" text-anchor="end">1.0</text>
<text transform="translate(791.5 1373.5) scale(1 1.08)" font-size="20.0" text-anchor="end">1.2</text>
<text transform="translate(791.5 1308) scale(1 1.08)" font-size="20.0" text-anchor="end">1.4</text>
<text transform="translate(791.5 1242.5) scale(1 1.08)" font-size="20.0" text-anchor="end">1.6</text>
<text transform="translate(864.7 1718.2) scale(1 1.12)" font-size="20.6" text-anchor="middle">0</text>
<text transform="translate(987.8 1718.2) scale(1 1.12)" font-size="20.6" text-anchor="middle">5</text>
<text transform="translate(1110.9 1718.2) scale(1 1.12)" font-size="20.6" text-anchor="middle">10</text>
<text transform="translate(1234.1 1718.2) scale(1 1.12)" font-size="20.6" text-anchor="middle">20</text>
<text transform="translate(1357.2 1718.2) scale(1 1.12)" font-size="20.6" text-anchor="middle">30</text>
<text transform="translate(750.4 1448.7) rotate(-90)" font-size="25.5" text-anchor="middle">TN (g/kg)</text>
<text transform="translate(1122.5 1748.6) scale(1 1.035)" font-size="25.9" text-anchor="middle" textLength="319.0" lengthAdjust="spacingAndGlyphs">Freeze-thaw cycle times (time)</text>
<text x="824.8" y="1265" font-size="25.6">(f)</text>
<rect x="1078.4" y="1208.9" width="46.86" height="22.93" rx="1" fill="#a6c6b9" stroke="#0b6646" stroke-width="2"/>
<text x="1131.24" y="1226.94" font-size="20.94">CK</text>
<rect x="1160.65" y="1208.9" width="46.86" height="22.93" rx="1" fill="#ffa6a6" stroke="#ff0000" stroke-width="2"/>
<text x="1213.49" y="1226.94" font-size="20.94">B</text>
<rect x="1227.95" y="1208.9" width="46.86" height="22.93" rx="1" fill="#a6a6ff" stroke="#0000ff" stroke-width="2"/>
<text x="1280.79" y="1226.94" font-size="20.94">C</text>
<rect x="1294.75" y="1208.9" width="46.86" height="22.93" rx="1" fill="#d3a6d3" stroke="#800080" stroke-width="2"/>
<text x="1347.59" y="1226.94" font-size="20.94">CB</text>
<path d="M103.07 2244.6V2234.7M98.47 2234.7H107.67M103.07 2263.9V2267M98.47 2267H107.67" stroke="#0b6646" stroke-width="2" fill="none"/><rect x="95.37" y="2244.6" width="15.4" height="19.3" fill="#a6c6b9" stroke="#0b6646" stroke-width="2" stroke-linejoin="round"/><path d="M95.37 2260.7H110.77" stroke="#0b6646" stroke-width="2"/><rect x="100.07" y="2250" width="6" height="5.4" fill="none" stroke="#0b6646" stroke-width="1" opacity="0.6"/>
<path d="M127.69 1969.5V1954.7M123.09 1954.7H132.29M127.69 2000.2V2005.8M123.09 2005.8H132.29" stroke="#ff0000" stroke-width="2" fill="none"/><rect x="119.99" y="1969.5" width="15.4" height="30.7" fill="#ffa6a6" stroke="#ff0000" stroke-width="2" stroke-linejoin="round"/><path d="M119.99 1995.7H135.39" stroke="#ff0000" stroke-width="2"/><rect x="124.69" y="1982.3" width="6" height="5.4" fill="none" stroke="#ff0000" stroke-width="1" opacity="0.6"/>
<path d="M152.31 2004.7V1997.3M147.71 1997.3H156.91M152.31 2022V2027.6M147.71 2027.6H156.91" stroke="#0000ff" stroke-width="2" fill="none"/><rect x="144.61" y="2004.7" width="15.4" height="17.3" fill="#a6a6ff" stroke="#0000ff" stroke-width="2" stroke-linejoin="round"/><path d="M144.61 2014.8H160.01" stroke="#0000ff" stroke-width="2"/><rect x="149.31" y="2009.8" width="6" height="5.4" fill="none" stroke="#0000ff" stroke-width="1" opacity="0.6"/>
<path d="M176.93 1887.6V1880.7M172.33 1880.7H181.53M176.93 1906.7V1913.4M172.33 1913.4H181.53" stroke="#800080" stroke-width="2" fill="none"/><rect x="169.23" y="1887.6" width="15.4" height="19.1" fill="#d3a6d3" stroke="#800080" stroke-width="2" stroke-linejoin="round"/><path d="M169.23 1898.6H184.63" stroke="#800080" stroke-width="2"/><rect x="173.93" y="1895" width="6" height="5.4" fill="none" stroke="#800080" stroke-width="1" opacity="0.6"/>
<path d="M226.27 2237V2227.1M221.67 2227.1H230.87M226.27 2256.3V2261.6M221.67 2261.6H230.87" stroke="#0b6646" stroke-width="2" fill="none"/><rect x="218.57" y="2237" width="15.4" height="19.3" fill="#a6c6b9" stroke="#0b6646" stroke-width="2" stroke-linejoin="round"/><path d="M218.57 2250.4H233.97" stroke="#0b6646" stroke-width="2"/><rect x="223.27" y="2244.1" width="6" height="5.4" fill="none" stroke="#0b6646" stroke-width="1" opacity="0.6"/>
<path d="M250.89 1954.7V1943M246.29 1943H255.49M250.89 1977.1V1980M246.29 1980H255.49" stroke="#ff0000" stroke-width="2" fill="none"/><rect x="243.19" y="1954.7" width="15.4" height="22.4" fill="#ffa6a6" stroke="#ff0000" stroke-width="2" stroke-linejoin="round"/><path d="M243.19 1974.4H258.59" stroke="#ff0000" stroke-width="2"/><rect x="247.89" y="1962.7" width="6" height="5.4" fill="none" stroke="#ff0000" stroke-width="1" opacity="0.6"/>
<path d="M275.51 1994.6V1987.4M270.91 1987.4H280.11M275.51 2011.4V2016.4M270.91 2016.4H280.11" stroke="#0000ff" stroke-width="2" fill="none"/><rect x="267.81" y="1994.6" width="15.4" height="16.8" fill="#a6a6ff" stroke="#0000ff" stroke-width="2" stroke-linejoin="round"/><path d="M267.81 2005.1H283.21" stroke="#0000ff" stroke-width="2"/><rect x="272.51" y="1998.6" width="6" height="5.4" fill="none" stroke="#0000ff" stroke-width="1" opacity="0.6"/>
<path d="M300.13 1873.9V1866.8M295.53 1866.8H304.73M300.13 1894.8V1903.3M295.53 1903.3H304.73" stroke="#800080" stroke-width="2" fill="none"/><rect x="292.43" y="1873.9" width="15.4" height="20.9" fill="#d3a6d3" stroke="#800080" stroke-width="2" stroke-linejoin="round"/><path d="M292.43 1882.9H307.83" stroke="#800080" stroke-width="2"/><rect x="297.13" y="1879.3" width="6" height="5.4" fill="none" stroke="#800080" stroke-width="1" opacity="0.6"/>
<path d="M349.37 2208.7V2195.3M344.77 2195.3H353.97M349.37 2234.7V2237M344.77 2237H353.97" stroke="#0b6646" stroke-width="2" fill="none"/><rect x="341.67" y="2208.7" width="15.4" height="26" fill="#a6c6b9" stroke="#0b6646" stroke-width="2" stroke-linejoin="round"/><path d="M341.67 2232.5H357.07" stroke="#0b6646" stroke-width="2"/><rect x="346.37" y="2218.6" width="6" height="5.4" fill="none" stroke="#0b6646" stroke-width="1" opacity="0.6"/>
<path d="M373.99 1943.7V1937.4M369.39 1937.4H378.59M373.99 1959.8V1965M369.39 1965H378.59" stroke="#ff0000" stroke-width="2" fill="none"/><rect x="366.29" y="1943.7" width="15.4" height="16.1" fill="#ffa6a6" stroke="#ff0000" stroke-width="2" stroke-linejoin="round"/><path d="M366.29 1952H381.69" stroke="#ff0000" stroke-width="2"/><rect x="370.99" y="1947" width="6" height="5.4" fill="none" stroke="#ff0000" stroke-width="1" opacity="0.6"/>
<path d="M398.61 1974.9V1969.8M394.01 1969.8H403.21M398.61 1994.7V2003.4M394.01 2003.4H403.21" stroke="#0000ff" stroke-width="2" fill="none"/><rect x="390.91" y="1974.9" width="15.4" height="19.8" fill="#a6a6ff" stroke="#0000ff" stroke-width="2" stroke-linejoin="round"/><path d="M390.91 1980.1H406.31" stroke="#0000ff" stroke-width="2"/><rect x="395.61" y="1981.2" width="6" height="5.4" fill="none" stroke="#0000ff" stroke-width="1" opacity="0.6"/>
<path d="M423.23 1855.6V1844.9M418.63 1844.9H427.83M423.23 1878V1881.9M418.63 1881.9H427.83" stroke="#800080" stroke-width="2" fill="none"/><rect x="415.53" y="1855.6" width="15.4" height="22.4" fill="#d3a6d3" stroke="#800080" stroke-width="2" stroke-linejoin="round"/><path d="M415.53 1875.1H430.93" stroke="#800080" stroke-width="2"/><rect x="420.23" y="1862.8" width="6" height="5.4" fill="none" stroke="#800080" stroke-width="1" opacity="0.6"/>
<path d="M472.47 2186.3V2177.8M467.87 2177.8H477.07M472.47 2201.1V2202M467.87 2202H477.07" stroke="#0b6646" stroke-width="2" fill="none"/><rect x="464.77" y="2186.3" width="15.4" height="14.8" fill="#a6c6b9" stroke="#0b6646" stroke-width="2" stroke-linejoin="round"/><path d="M464.77 2198.8H480.17" stroke="#0b6646" stroke-width="2"/><rect x="469.47" y="2191.7" width="6" height="5.4" fill="none" stroke="#0b6646" stroke-width="1" opacity="0.6"/>
<path d="M497.09 1915.5V1908.8M492.49 1908.8H501.69M497.09 1929.6V1933M492.49 1933H501.69" stroke="#ff0000" stroke-width="2" fill="none"/><rect x="489.39" y="1915.5" width="15.4" height="14.1" fill="#ffa6a6" stroke="#ff0000" stroke-width="2" stroke-linejoin="round"/><path d="M489.39 1927.4H504.79" stroke="#ff0000" stroke-width="2"/><rect x="494.09" y="1918.4" width="6" height="5.4" fill="none" stroke="#ff0000" stroke-width="1" opacity="0.6"/>
<path d="M521.71 1961.5V1955.4M517.11 1955.4H526.31M521.71 1978.7V1984.6M517.11 1984.6H526.31" stroke="#0000ff" stroke-width="2" fill="none"/><rect x="514.01" y="1961.5" width="15.4" height="17.2" fill="#a6a6ff" stroke="#0000ff" stroke-width="2" stroke-linejoin="round"/><path d="M514.01 1967.1H529.41" stroke="#0000ff" stroke-width="2"/><rect x="518.71" y="1970" width="6" height="5.4" fill="none" stroke="#0000ff" stroke-width="1" opacity="0.6"/>
<path d="M546.33 1841.5V1832.1M541.73 1832.1H550.93M546.33 1860.1V1862.8M541.73 1862.8H550.93" stroke="#800080" stroke-width="2" fill="none"/><rect x="538.63" y="1841.5" width="15.4" height="18.6" fill="#d3a6d3" stroke="#800080" stroke-width="2" stroke-linejoin="round"/><path d="M538.63 1857.9H554.03" stroke="#800080" stroke-width="2"/><rect x="543.33" y="1847.8" width="6" height="5.4" fill="none" stroke="#800080" stroke-width="1" opacity="0.6"/>
<path d="M595.67 2175.1V2168.8M591.07 2168.8H600.27M595.67 2194.4V2199.7M591.07 2199.7H600.27" stroke="#0b6646" stroke-width="2" fill="none"/><rect x="587.97" y="2175.1" width="15.4" height="19.3" fill="#a6c6b9" stroke="#0b6646" stroke-width="2" stroke-linejoin="round"/><path d="M587.97 2184.5H603.37" stroke="#0b6646" stroke-width="2"/><rect x="592.67" y="2179.6" width="6" height="5.4" fill="none" stroke="#0b6646" stroke-width="1" opacity="0.6"/>
<path d="M620.29 1908.8V1901.6M615.69 1901.6H624.89M620.29 1921.1V1926M615.69 1926H624.89" stroke="#ff0000" stroke-width="2" fill="none"/><rect x="612.59" y="1908.8" width="15.4" height="12.3" fill="#ffa6a6" stroke="#ff0000" stroke-width="2" stroke-linejoin="round"/><path d="M612.59 1917.1H627.99" stroke="#ff0000" stroke-width="2"/><rect x="617.29" y="1911.7" width="6" height="5.4" fill="none" stroke="#ff0000" stroke-width="1" opacity="0.6"/>
<path d="M644.91 1953.2V1947.6M640.31 1947.6H649.51M644.91 1967.1V1973.1M640.31 1973.1H649.51" stroke="#0000ff" stroke-width="2" fill="none"/><rect x="637.21" y="1953.2" width="15.4" height="13.9" fill="#a6a6ff" stroke="#0000ff" stroke-width="2" stroke-linejoin="round"/><path d="M637.21 1960.8H652.61" stroke="#0000ff" stroke-width="2"/><rect x="641.91" y="1957.6" width="6" height="5.4" fill="none" stroke="#0000ff" stroke-width="1" opacity="0.6"/>
<path d="M669.53 1839.2V1831.8M664.93 1831.8H674.13M669.53 1855.6V1859M664.93 1859H674.13" stroke="#800080" stroke-width="2" fill="none"/><rect x="661.83" y="1839.2" width="15.4" height="16.4" fill="#d3a6d3" stroke="#800080" stroke-width="2" stroke-linejoin="round"/><path d="M661.83 1853.4H677.23" stroke="#800080" stroke-width="2"/><rect x="666.53" y="1844.4" width="6" height="5.4" fill="none" stroke="#800080" stroke-width="1" opacity="0.6"/>
<rect x="78.4" y="1809.1" width="615.8" height="491.2" fill="none" stroke="#000" stroke-width="2.3"/>
<path d="M78.4 2267.5h9.5M78.4 2202.1h9.5M78.4 2136.7h9.5M78.4 2071.3h9.5M78.4 2005.9h9.5M78.4 1940.5h9.5M78.4 1875.1h9.5M78.4 1809.7h9.5M78.4 2234.8h4.8M78.4 2169.4h4.8M78.4 2104h4.8M78.4 2038.6h4.8M78.4 1973.2h4.8M78.4 1907.8h4.8M78.4 1842.4h4.8M140 2300.3v-9.5M263.2 2300.3v-9.5M386.3 2300.3v-9.5M509.4 2300.3v-9.5M632.6 2300.3v-9.5" stroke="#000" stroke-width="2.3" fill="none"/>
<text transform="translate(67.5 2274.41) scale(1 1.1)" font-size="19.65" text-anchor="end">4</text>
<text transform="translate(67.5 2209.01) scale(1 1.1)" font-size="19.65" text-anchor="end">6</text>
<text transform="translate(67.5 2143.61) scale(1 1.1)" font-size="19.65" text-anchor="end">8</text>
<text transform="translate(67.5 2078.21) scale(1 1.1)" font-size="19.65" text-anchor="end">10</text>
<text transform="translate(67.5 2012.81) scale(1 1.1)" font-size="19.65" text-anchor="end">12</text>
<text transform="translate(67.5 1947.41) scale(1 1.1)" font-size="19.65" text-anchor="end">14</text>
<text transform="translate(67.5 1882.01) scale(1 1.1)" font-size="19.65" text-anchor="end">16</text>
<text transform="translate(67.5 1816.61) scale(1 1.1)" font-size="19.65" text-anchor="end">18</text>
<text transform="translate(140 2322.3) scale(1 1.05)" font-size="20.6" text-anchor="middle">0</text>
<text transform="translate(263.2 2322.3) scale(1 1.05)" font-size="20.6" text-anchor="middle">5</text>
<text transform="translate(386.3 2322.3) scale(1 1.05)" font-size="20.6" text-anchor="middle">10</text>
<text transform="translate(509.4 2322.3) scale(1 1.05)" font-size="20.6" text-anchor="middle">20</text>
<text transform="translate(632.6 2322.3) scale(1 1.05)" font-size="20.6" text-anchor="middle">30</text>
<text transform="translate(30.6 2063.1) rotate(-90)" font-size="25.8" text-anchor="middle">OM (%)</text>
<text transform="translate(408 2355.7) scale(1 1.06)" font-size="25.9" text-anchor="middle" textLength="319.7" lengthAdjust="spacingAndGlyphs">Freeze-thaw cycle times (time)</text>
<text x="97" y="1875" font-size="25.6">(g)</text>
<rect x="88.3" y="1815.8" width="46.81" height="22.91" rx="1" fill="#a6c6b9" stroke="#0b6646" stroke-width="2"/>
<text x="141.09" y="1834.22" font-size="20.92">CK</text>
<rect x="170.47" y="1815.8" width="46.81" height="22.91" rx="1" fill="#ffa6a6" stroke="#ff0000" stroke-width="2"/>
<text x="223.26" y="1834.22" font-size="20.92">B</text>
<rect x="237.7" y="1815.8" width="46.81" height="22.91" rx="1" fill="#a6a6ff" stroke="#0000ff" stroke-width="2"/>
<text x="290.49" y="1834.22" font-size="20.92">C</text>
<rect x="304.43" y="1815.8" width="46.81" height="22.91" rx="1" fill="#d3a6d3" stroke="#800080" stroke-width="2"/>
<text x="357.22" y="1834.22" font-size="20.92">CB</text>
</svg>
</body></html>
